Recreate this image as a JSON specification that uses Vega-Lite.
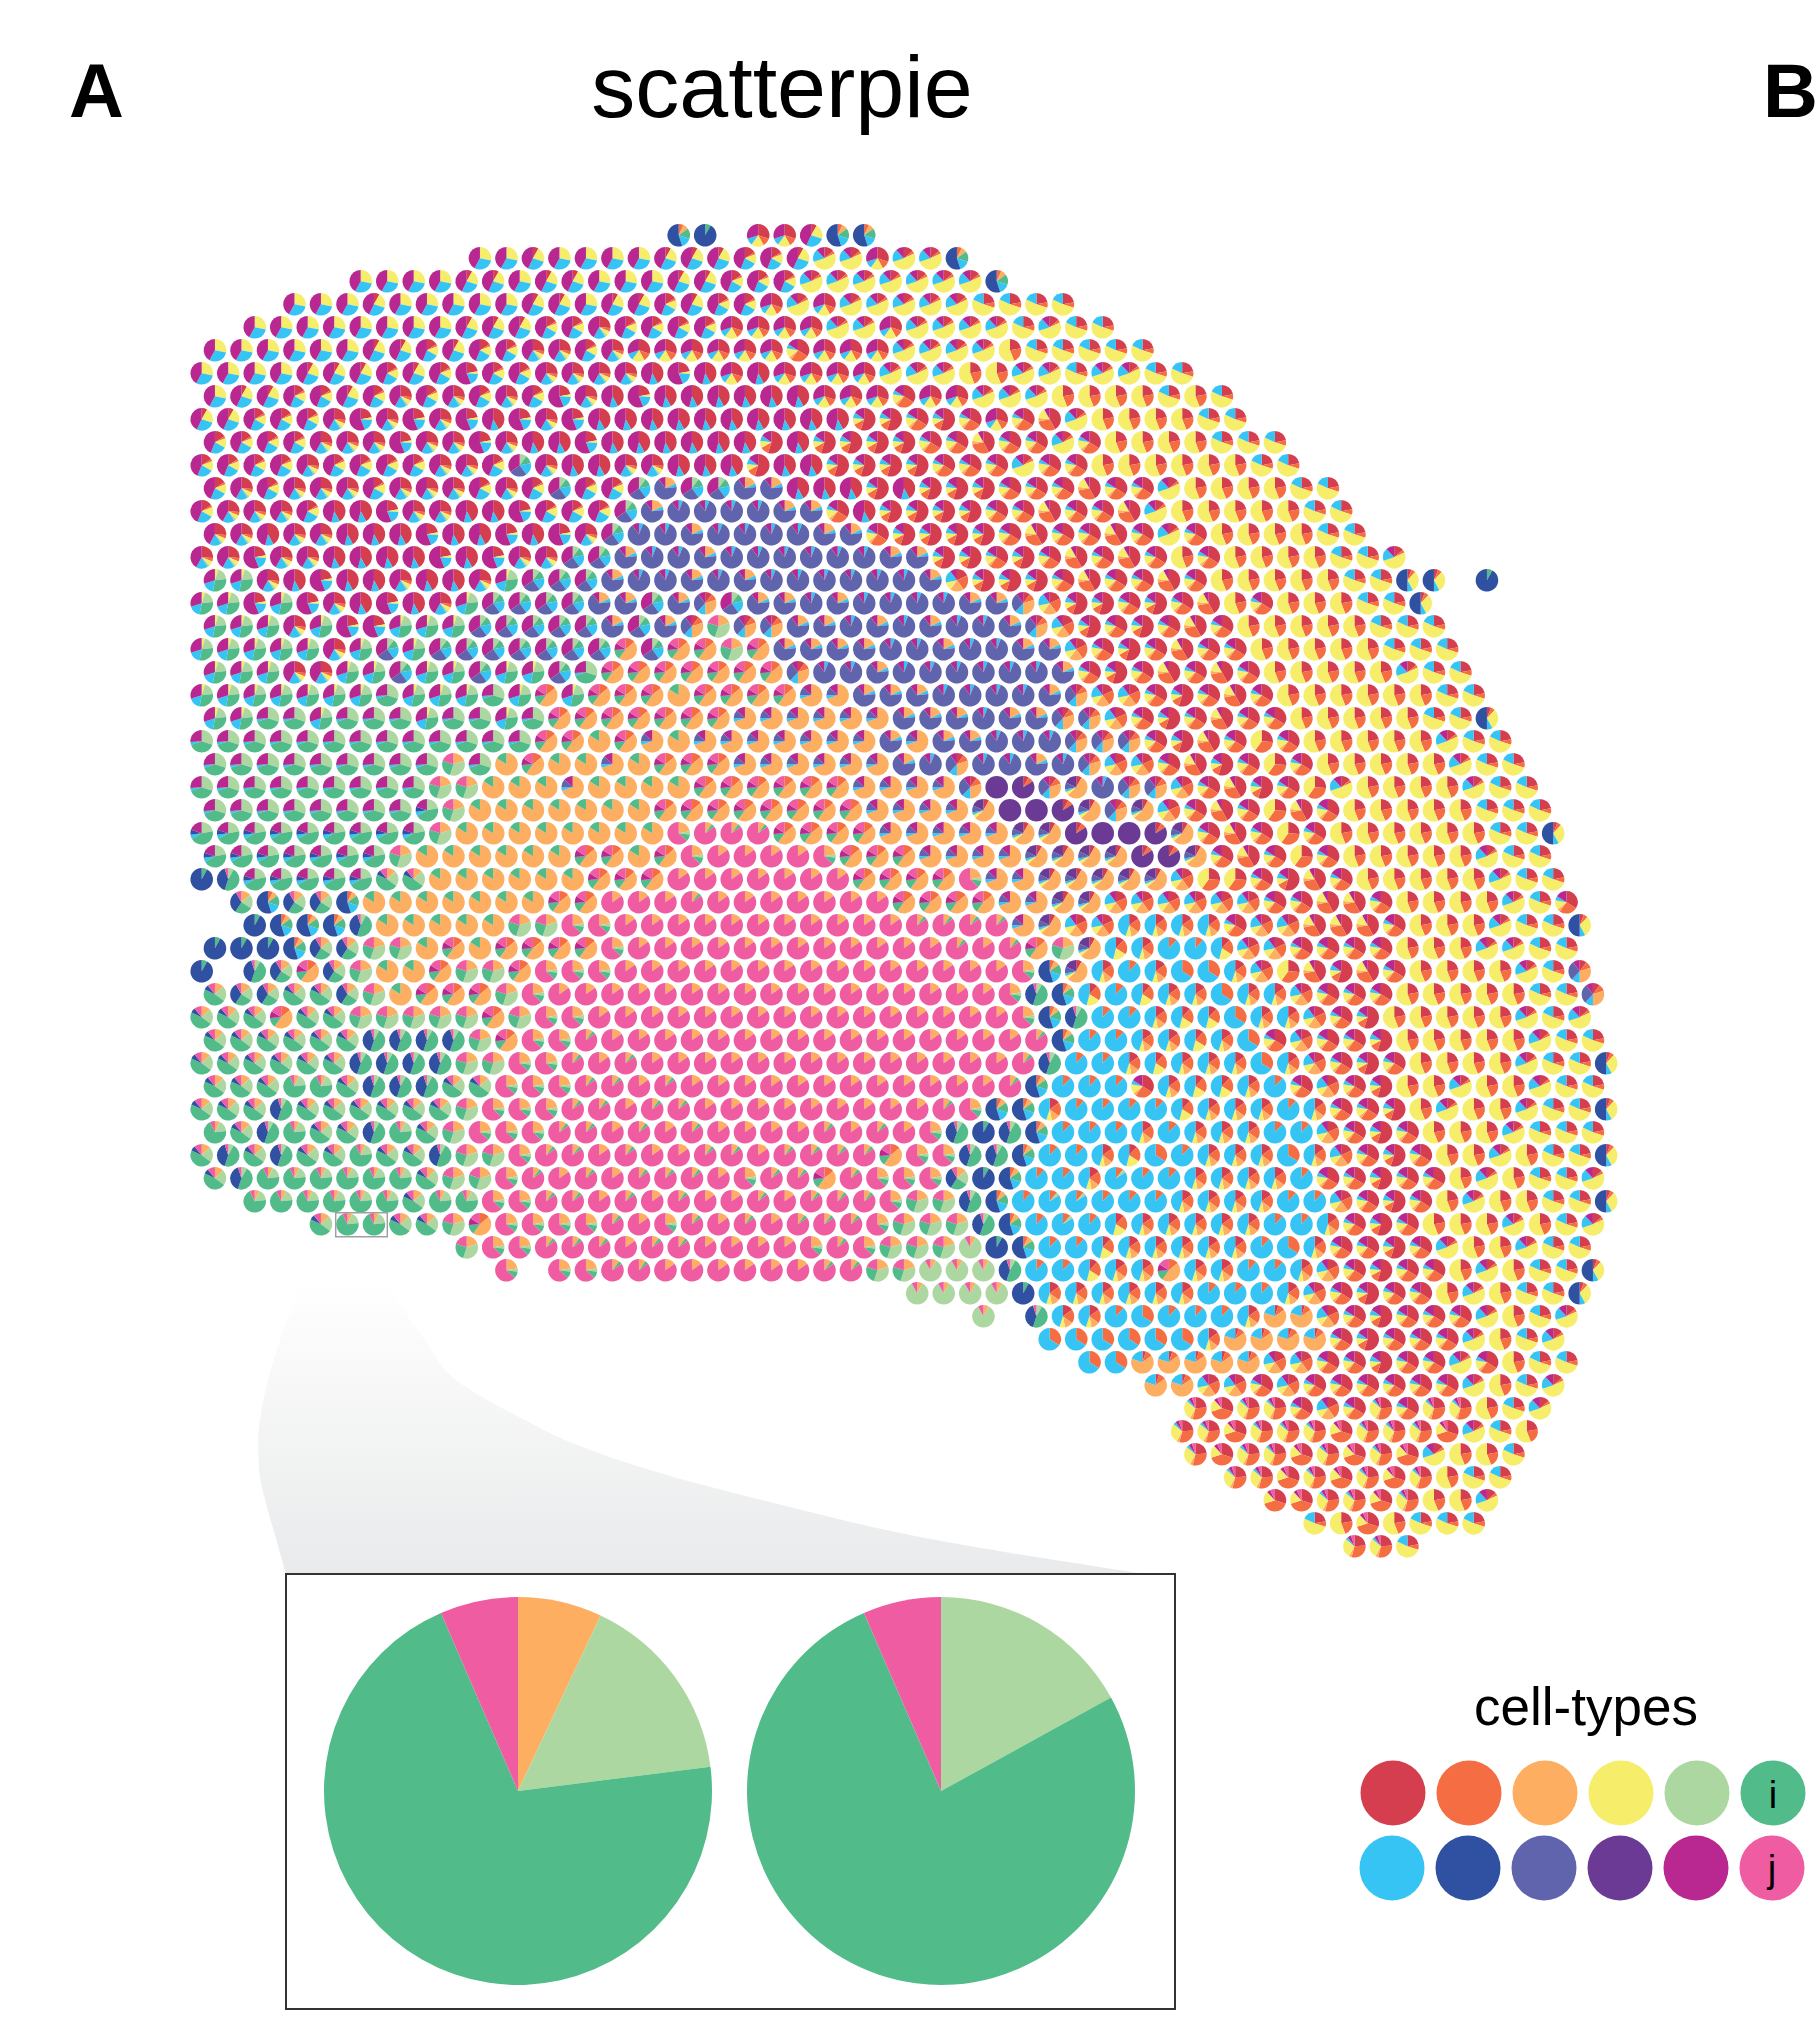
{"$schema":"https://vega.github.io/schema/vega-lite/v6.json","width":1816,"height":2040,"padding":0,"autosize":{"type":"fit","contains":"padding"},"background":"white","config":{"view":{"stroke":null}},
"datasets":{"mix":[
{"t":"a","k":["d","f","l"],"v0":[0,0.28,0.58],"v1":[0.28,0.58,1]},
{"t":"b","k":["r","d","f","l"],"v0":[0,0.08,0.3,0.57],"v1":[0.08,0.3,0.57,1]},
{"t":"c","k":["r","b","d","f","l"],"v0":[0,0.16,0.19,0.33,0.56],"v1":[0.16,0.19,0.33,0.56,1]},
{"t":"e","k":["r","d","f","l"],"v0":[0,0.22,0.26,0.44],"v1":[0.22,0.26,0.44,1]},
{"t":"g","k":["r","b","d","e","f","l"],"v0":[0,0.26,0.31,0.38,0.41,0.58],"v1":[0.26,0.31,0.38,0.41,0.58,1]},
{"t":"h","k":["r","f","l"],"v0":[0,0.42,0.54],"v1":[0.42,0.54,1]},
{"t":"i","k":["r","b","d","f","l"],"v0":[0,0.3,0.42,0.6,0.7],"v1":[0.3,0.42,0.6,0.7,1]},
{"t":"j","k":["r","b","d","f","l"],"v0":[0,0.14,0.18,0.7,0.88],"v1":[0.14,0.18,0.7,0.88,1]},
{"t":"k","k":["r","b","d"],"v0":[0,0.22,0.44],"v1":[0.22,0.44,1]},
{"t":"m","k":["r","b","d","f"],"v0":[0,0.22,0.3,0.82],"v1":[0.22,0.3,0.82,1]},
{"t":"n","k":["r","b","d","f","l"],"v0":[0,0.55,0.67,0.77,0.85],"v1":[0.55,0.67,0.77,0.85,1]},
{"t":"o","k":["r","b","c","d","l"],"v0":[0,0.42,0.72,0.77,0.92],"v1":[0.42,0.72,0.77,0.92,1]},
{"t":"p","k":["r","b","d"],"v0":[0,0.26,0.6],"v1":[0.26,0.6,1]},
{"t":"q","k":["r","b","c","d","f","l"],"v0":[0,0.34,0.6,0.64,0.78,0.84],"v1":[0.34,0.6,0.64,0.78,0.84,1]},
{"t":"s","k":["f","h","l"],"v0":[0,0.06,0.9],"v1":[0.06,0.9,1]},
{"t":"t","k":["c","f","h","l"],"v0":[0,0.18,0.23,0.9],"v1":[0.18,0.23,0.9,1]},
{"t":"u","k":["e","i","f","h","l"],"v0":[0,0.1,0.22,0.4,0.65],"v1":[0.1,0.22,0.4,0.65,1]},
{"t":"v","k":["c","f","h","l"],"v0":[0,0.7,0.75,0.87],"v1":[0.7,0.75,0.87,1]},
{"t":"w","k":["c","i"],"v0":[0,0.84],"v1":[0.84,1]},
{"t":"x","k":["b","c","i","l","j"],"v0":[0,0.14,0.6,0.74,0.84],"v1":[0.14,0.6,0.74,0.84,1]},
{"t":"y","k":["c","j"],"v0":[0,0.15],"v1":[0.15,1]},
{"t":"z","k":["c","i","j"],"v0":[0,0.1,0.15],"v1":[0.1,0.15,1]},
{"t":"A","k":["c","e","i","j"],"v0":[0,0.22,0.27,0.37],"v1":[0.22,0.27,0.37,1]},
{"t":"B","k":["e","i","f","l"],"v0":[0,0.3,0.7,0.74],"v1":[0.3,0.7,0.74,1]},
{"t":"C","k":["d","e","i","f","l"],"v0":[0,0.05,0.23,0.53,0.7],"v1":[0.05,0.23,0.53,0.7,1]},
{"t":"D","k":["e","i","f","g","l"],"v0":[0,0.22,0.67,0.73,0.8],"v1":[0.22,0.67,0.73,0.8,1]},
{"t":"E","k":["c","e","i","j"],"v0":[0,0.07,0.23,0.93],"v1":[0.07,0.23,0.93,1]},
{"t":"F","k":["c","e","i","g","j"],"v0":[0,0.13,0.35,0.82,0.89],"v1":[0.13,0.35,0.82,0.89,1]},
{"t":"G","k":["e","i","g","j"],"v0":[0,0.08,0.55,0.95],"v1":[0.08,0.55,0.95,1]},
{"t":"H","k":["i","g"],"v0":[0,0.08],"v1":[0.08,1]},
{"t":"I","k":["b","c","i","f","g"],"v0":[0,0.07,0.15,0.3,0.45],"v1":[0.07,0.15,0.3,0.45,1]},
{"t":"J","k":["c","e","i","g","j"],"v0":[0,0.14,0.34,0.59,0.92],"v1":[0.14,0.34,0.59,0.92,1]},
{"t":"K","k":["b","f"],"v0":[0,0.12],"v1":[0.12,1]},
{"t":"L","k":["b","e","f"],"v0":[0,0.11,0.16],"v1":[0.11,0.16,1]},
{"t":"M","k":["r","b","c","d","f"],"v0":[0,0.15,0.35,0.47,0.55],"v1":[0.15,0.35,0.47,0.55,1]},
{"t":"N","k":["r","b","d","f"],"v0":[0,0.12,0.34,0.54],"v1":[0.12,0.34,0.54,1]},
{"t":"O","k":["b","f"],"v0":[0,0.34],"v1":[0.34,1]},
{"t":"P","k":["r","b","c","f"],"v0":[0,0.05,0.15,0.8],"v1":[0.05,0.15,0.8,1]},
{"t":"Q","k":["k"],"v0":[0],"v1":[1]},
{"t":"R","k":["r","b","k"],"v0":[0,0.08,0.16],"v1":[0.08,0.16,1]},
{"t":"S","k":["r","c","d","f","h","k"],"v0":[0,0.08,0.63,0.68,0.72,0.82],"v1":[0.08,0.63,0.68,0.72,0.82,1]},
{"t":"T","k":["c","e","j"],"v0":[0,0.08,0.92],"v1":[0.08,0.92,1]},
{"t":"U","k":["c","e","i","j"],"v0":[0,0.2,0.55,0.8],"v1":[0.2,0.55,0.8,1]},
{"t":"V","k":["r","b","d","f","g"],"v0":[0,0.06,0.12,0.42,0.5],"v1":[0.06,0.12,0.42,0.5,1]},
{"t":"W","k":["r","b","d","l","j"],"v0":[0,0.3,0.7,0.88,0.93],"v1":[0.3,0.7,0.88,0.93,1]},
{"t":"X","k":["r","b","c","d","f","l","j"],"v0":[0,0.24,0.54,0.58,0.86,0.9,0.95],"v1":[0.24,0.54,0.58,0.86,0.9,0.95,1]},
{"t":"Y","k":["r","b","c","d","f","l"],"v0":[0,0.18,0.4,0.6,0.72,0.9],"v1":[0.18,0.4,0.6,0.72,0.9,1]},
{"t":"Z","k":["r","b","c","f","h","l"],"v0":[0,0.1,0.2,0.5,0.62,0.9],"v1":[0.1,0.2,0.5,0.62,0.9,1]}],
"spots":[
{"x":36,"y":0,"t":"I"},{"x":38,"y":0,"t":"H"},{"x":42,"y":0,"t":"i"},{"x":44,"y":0,"t":"i"},{"x":46,"y":0,"t":"b"},{"x":48,"y":0,"t":"I"},{"x":50,"y":0,"t":"I"},
{"x":21,"y":1,"t":"a"},{"x":23,"y":1,"t":"a"},{"x":25,"y":1,"t":"b"},{"x":27,"y":1,"t":"a"},{"x":29,"y":1,"t":"a"},{"x":31,"y":1,"t":"a"},{"x":33,"y":1,"t":"a"},{"x":35,"y":1,"t":"b"},{"x":37,"y":1,"t":"b"},{"x":39,"y":1,"t":"b"},{"x":41,"y":1,"t":"c"},{"x":43,"y":1,"t":"c"},{"x":45,"y":1,"t":"b"},{"x":47,"y":1,"t":"j"},{"x":49,"y":1,"t":"j"},{"x":51,"y":1,"t":"i"},{"x":53,"y":1,"t":"j"},{"x":55,"y":1,"t":"j"},{"x":57,"y":1,"t":"I"},
{"x":12,"y":2,"t":"a"},{"x":14,"y":2,"t":"a"},{"x":16,"y":2,"t":"a"},{"x":18,"y":2,"t":"a"},{"x":20,"y":2,"t":"b"},{"x":22,"y":2,"t":"b"},{"x":24,"y":2,"t":"a"},{"x":26,"y":2,"t":"b"},{"x":28,"y":2,"t":"b"},{"x":30,"y":2,"t":"a"},{"x":32,"y":2,"t":"a"},{"x":34,"y":2,"t":"a"},{"x":36,"y":2,"t":"b"},{"x":38,"y":2,"t":"b"},{"x":40,"y":2,"t":"c"},{"x":42,"y":2,"t":"c"},{"x":44,"y":2,"t":"c"},{"x":46,"y":2,"t":"j"},{"x":48,"y":2,"t":"j"},{"x":50,"y":2,"t":"j"},{"x":52,"y":2,"t":"j"},{"x":54,"y":2,"t":"j"},{"x":56,"y":2,"t":"j"},{"x":58,"y":2,"t":"j"},{"x":60,"y":2,"t":"I"},
{"x":7,"y":3,"t":"a"},{"x":9,"y":3,"t":"a"},{"x":11,"y":3,"t":"a"},{"x":13,"y":3,"t":"b"},{"x":15,"y":3,"t":"a"},{"x":17,"y":3,"t":"a"},{"x":19,"y":3,"t":"a"},{"x":21,"y":3,"t":"a"},{"x":23,"y":3,"t":"a"},{"x":25,"y":3,"t":"b"},{"x":27,"y":3,"t":"b"},{"x":29,"y":3,"t":"a"},{"x":31,"y":3,"t":"b"},{"x":33,"y":3,"t":"b"},{"x":35,"y":3,"t":"c"},{"x":37,"y":3,"t":"b"},{"x":39,"y":3,"t":"c"},{"x":41,"y":3,"t":"c"},{"x":43,"y":3,"t":"i"},{"x":45,"y":3,"t":"j"},{"x":47,"y":3,"t":"i"},{"x":49,"y":3,"t":"j"},{"x":51,"y":3,"t":"j"},{"x":53,"y":3,"t":"j"},{"x":55,"y":3,"t":"j"},{"x":57,"y":3,"t":"j"},{"x":59,"y":3,"t":"m"},{"x":61,"y":3,"t":"m"},{"x":63,"y":3,"t":"m"},{"x":65,"y":3,"t":"m"},
{"x":4,"y":4,"t":"a"},{"x":6,"y":4,"t":"a"},{"x":8,"y":4,"t":"a"},{"x":10,"y":4,"t":"a"},{"x":12,"y":4,"t":"a"},{"x":14,"y":4,"t":"a"},{"x":16,"y":4,"t":"a"},{"x":18,"y":4,"t":"a"},{"x":20,"y":4,"t":"b"},{"x":22,"y":4,"t":"b"},{"x":24,"y":4,"t":"b"},{"x":26,"y":4,"t":"c"},{"x":28,"y":4,"t":"c"},{"x":30,"y":4,"t":"g"},{"x":32,"y":4,"t":"c"},{"x":34,"y":4,"t":"c"},{"x":36,"y":4,"t":"c"},{"x":38,"y":4,"t":"c"},{"x":40,"y":4,"t":"i"},{"x":42,"y":4,"t":"i"},{"x":44,"y":4,"t":"i"},{"x":46,"y":4,"t":"i"},{"x":48,"y":4,"t":"j"},{"x":50,"y":4,"t":"j"},{"x":52,"y":4,"t":"i"},{"x":54,"y":4,"t":"j"},{"x":56,"y":4,"t":"j"},{"x":58,"y":4,"t":"j"},{"x":60,"y":4,"t":"j"},{"x":62,"y":4,"t":"m"},{"x":64,"y":4,"t":"j"},{"x":66,"y":4,"t":"m"},{"x":68,"y":4,"t":"m"},
{"x":1,"y":5,"t":"a"},{"x":3,"y":5,"t":"a"},{"x":5,"y":5,"t":"a"},{"x":7,"y":5,"t":"a"},{"x":9,"y":5,"t":"a"},{"x":11,"y":5,"t":"a"},{"x":13,"y":5,"t":"b"},{"x":15,"y":5,"t":"b"},{"x":17,"y":5,"t":"c"},{"x":19,"y":5,"t":"b"},{"x":21,"y":5,"t":"c"},{"x":23,"y":5,"t":"c"},{"x":25,"y":5,"t":"g"},{"x":27,"y":5,"t":"g"},{"x":29,"y":5,"t":"c"},{"x":31,"y":5,"t":"g"},{"x":33,"y":5,"t":"i"},{"x":35,"y":5,"t":"i"},{"x":37,"y":5,"t":"i"},{"x":39,"y":5,"t":"i"},{"x":41,"y":5,"t":"i"},{"x":43,"y":5,"t":"i"},{"x":45,"y":5,"t":"q"},{"x":47,"y":5,"t":"i"},{"x":49,"y":5,"t":"i"},{"x":51,"y":5,"t":"i"},{"x":53,"y":5,"t":"j"},{"x":55,"y":5,"t":"j"},{"x":57,"y":5,"t":"j"},{"x":59,"y":5,"t":"j"},{"x":61,"y":5,"t":"k"},{"x":63,"y":5,"t":"m"},{"x":65,"y":5,"t":"m"},{"x":67,"y":5,"t":"m"},{"x":69,"y":5,"t":"m"},{"x":71,"y":5,"t":"m"},
{"x":0,"y":6,"t":"a"},{"x":2,"y":6,"t":"a"},{"x":4,"y":6,"t":"a"},{"x":6,"y":6,"t":"a"},{"x":8,"y":6,"t":"b"},{"x":10,"y":6,"t":"b"},{"x":12,"y":6,"t":"b"},{"x":14,"y":6,"t":"c"},{"x":16,"y":6,"t":"b"},{"x":18,"y":6,"t":"c"},{"x":20,"y":6,"t":"e"},{"x":22,"y":6,"t":"c"},{"x":24,"y":6,"t":"c"},{"x":26,"y":6,"t":"g"},{"x":28,"y":6,"t":"g"},{"x":30,"y":6,"t":"g"},{"x":32,"y":6,"t":"g"},{"x":34,"y":6,"t":"h"},{"x":36,"y":6,"t":"e"},{"x":38,"y":6,"t":"h"},{"x":40,"y":6,"t":"i"},{"x":42,"y":6,"t":"h"},{"x":44,"y":6,"t":"i"},{"x":46,"y":6,"t":"i"},{"x":48,"y":6,"t":"i"},{"x":50,"y":6,"t":"i"},{"x":52,"y":6,"t":"j"},{"x":54,"y":6,"t":"j"},{"x":56,"y":6,"t":"j"},{"x":58,"y":6,"t":"k"},{"x":60,"y":6,"t":"k"},{"x":62,"y":6,"t":"j"},{"x":64,"y":6,"t":"j"},{"x":66,"y":6,"t":"m"},{"x":68,"y":6,"t":"j"},{"x":70,"y":6,"t":"j"},{"x":72,"y":6,"t":"m"},{"x":74,"y":6,"t":"m"},
{"x":1,"y":7,"t":"a"},{"x":3,"y":7,"t":"b"},{"x":5,"y":7,"t":"b"},{"x":7,"y":7,"t":"c"},{"x":9,"y":7,"t":"c"},{"x":11,"y":7,"t":"b"},{"x":13,"y":7,"t":"c"},{"x":15,"y":7,"t":"g"},{"x":17,"y":7,"t":"c"},{"x":19,"y":7,"t":"g"},{"x":21,"y":7,"t":"c"},{"x":23,"y":7,"t":"g"},{"x":25,"y":7,"t":"c"},{"x":27,"y":7,"t":"e"},{"x":29,"y":7,"t":"g"},{"x":31,"y":7,"t":"h"},{"x":33,"y":7,"t":"e"},{"x":35,"y":7,"t":"h"},{"x":37,"y":7,"t":"h"},{"x":39,"y":7,"t":"h"},{"x":41,"y":7,"t":"h"},{"x":43,"y":7,"t":"h"},{"x":45,"y":7,"t":"h"},{"x":47,"y":7,"t":"i"},{"x":49,"y":7,"t":"i"},{"x":51,"y":7,"t":"i"},{"x":53,"y":7,"t":"q"},{"x":55,"y":7,"t":"i"},{"x":57,"y":7,"t":"i"},{"x":59,"y":7,"t":"j"},{"x":61,"y":7,"t":"j"},{"x":63,"y":7,"t":"j"},{"x":65,"y":7,"t":"k"},{"x":67,"y":7,"t":"k"},{"x":69,"y":7,"t":"k"},{"x":71,"y":7,"t":"k"},{"x":73,"y":7,"t":"m"},{"x":75,"y":7,"t":"k"},{"x":77,"y":7,"t":"m"},
{"x":0,"y":8,"t":"b"},{"x":2,"y":8,"t":"b"},{"x":4,"y":8,"t":"c"},{"x":6,"y":8,"t":"c"},{"x":8,"y":8,"t":"c"},{"x":10,"y":8,"t":"g"},{"x":12,"y":8,"t":"e"},{"x":14,"y":8,"t":"g"},{"x":16,"y":8,"t":"e"},{"x":18,"y":8,"t":"g"},{"x":20,"y":8,"t":"e"},{"x":22,"y":8,"t":"h"},{"x":24,"y":8,"t":"e"},{"x":26,"y":8,"t":"g"},{"x":28,"y":8,"t":"e"},{"x":30,"y":8,"t":"h"},{"x":32,"y":8,"t":"h"},{"x":34,"y":8,"t":"h"},{"x":36,"y":8,"t":"h"},{"x":38,"y":8,"t":"h"},{"x":40,"y":8,"t":"h"},{"x":42,"y":8,"t":"h"},{"x":44,"y":8,"t":"h"},{"x":46,"y":8,"t":"h"},{"x":48,"y":8,"t":"h"},{"x":50,"y":8,"t":"n"},{"x":52,"y":8,"t":"n"},{"x":54,"y":8,"t":"q"},{"x":56,"y":8,"t":"n"},{"x":58,"y":8,"t":"q"},{"x":60,"y":8,"t":"i"},{"x":62,"y":8,"t":"q"},{"x":64,"y":8,"t":"o"},{"x":66,"y":8,"t":"j"},{"x":68,"y":8,"t":"k"},{"x":70,"y":8,"t":"k"},{"x":72,"y":8,"t":"k"},{"x":74,"y":8,"t":"k"},{"x":76,"y":8,"t":"m"},{"x":78,"y":8,"t":"m"},
{"x":1,"y":9,"t":"c"},{"x":3,"y":9,"t":"c"},{"x":5,"y":9,"t":"c"},{"x":7,"y":9,"t":"c"},{"x":9,"y":9,"t":"g"},{"x":11,"y":9,"t":"g"},{"x":13,"y":9,"t":"g"},{"x":15,"y":9,"t":"e"},{"x":17,"y":9,"t":"g"},{"x":19,"y":9,"t":"g"},{"x":21,"y":9,"t":"e"},{"x":23,"y":9,"t":"g"},{"x":25,"y":9,"t":"h"},{"x":27,"y":9,"t":"h"},{"x":29,"y":9,"t":"e"},{"x":31,"y":9,"t":"h"},{"x":33,"y":9,"t":"h"},{"x":35,"y":9,"t":"h"},{"x":37,"y":9,"t":"h"},{"x":39,"y":9,"t":"h"},{"x":41,"y":9,"t":"h"},{"x":43,"y":9,"t":"n"},{"x":45,"y":9,"t":"h"},{"x":47,"y":9,"t":"n"},{"x":49,"y":9,"t":"n"},{"x":51,"y":9,"t":"n"},{"x":53,"y":9,"t":"n"},{"x":55,"y":9,"t":"q"},{"x":57,"y":9,"t":"q"},{"x":59,"y":9,"t":"o"},{"x":61,"y":9,"t":"q"},{"x":63,"y":9,"t":"q"},{"x":65,"y":9,"t":"j"},{"x":67,"y":9,"t":"q"},{"x":69,"y":9,"t":"k"},{"x":71,"y":9,"t":"k"},{"x":73,"y":9,"t":"k"},{"x":75,"y":9,"t":"k"},{"x":77,"y":9,"t":"m"},{"x":79,"y":9,"t":"m"},{"x":81,"y":9,"t":"m"},
{"x":0,"y":10,"t":"c"},{"x":2,"y":10,"t":"c"},{"x":4,"y":10,"t":"c"},{"x":6,"y":10,"t":"c"},{"x":8,"y":10,"t":"g"},{"x":10,"y":10,"t":"c"},{"x":12,"y":10,"t":"c"},{"x":14,"y":10,"t":"c"},{"x":16,"y":10,"t":"c"},{"x":18,"y":10,"t":"g"},{"x":20,"y":10,"t":"g"},{"x":22,"y":10,"t":"c"},{"x":24,"y":10,"t":"u"},{"x":26,"y":10,"t":"g"},{"x":28,"y":10,"t":"h"},{"x":30,"y":10,"t":"h"},{"x":32,"y":10,"t":"g"},{"x":34,"y":10,"t":"g"},{"x":36,"y":10,"t":"h"},{"x":38,"y":10,"t":"h"},{"x":40,"y":10,"t":"h"},{"x":42,"y":10,"t":"n"},{"x":44,"y":10,"t":"h"},{"x":46,"y":10,"t":"h"},{"x":48,"y":10,"t":"n"},{"x":50,"y":10,"t":"n"},{"x":52,"y":10,"t":"n"},{"x":54,"y":10,"t":"n"},{"x":56,"y":10,"t":"q"},{"x":58,"y":10,"t":"q"},{"x":60,"y":10,"t":"q"},{"x":62,"y":10,"t":"j"},{"x":64,"y":10,"t":"q"},{"x":66,"y":10,"t":"q"},{"x":68,"y":10,"t":"k"},{"x":70,"y":10,"t":"k"},{"x":72,"y":10,"t":"k"},{"x":74,"y":10,"t":"k"},{"x":76,"y":10,"t":"k"},{"x":78,"y":10,"t":"k"},{"x":80,"y":10,"t":"m"},{"x":82,"y":10,"t":"m"},
{"x":1,"y":11,"t":"c"},{"x":3,"y":11,"t":"g"},{"x":5,"y":11,"t":"c"},{"x":7,"y":11,"t":"g"},{"x":9,"y":11,"t":"g"},{"x":11,"y":11,"t":"g"},{"x":13,"y":11,"t":"c"},{"x":15,"y":11,"t":"g"},{"x":17,"y":11,"t":"g"},{"x":19,"y":11,"t":"g"},{"x":21,"y":11,"t":"c"},{"x":23,"y":11,"t":"g"},{"x":25,"y":11,"t":"c"},{"x":27,"y":11,"t":"u"},{"x":29,"y":11,"t":"c"},{"x":31,"y":11,"t":"c"},{"x":33,"y":11,"t":"u"},{"x":35,"y":11,"t":"t"},{"x":37,"y":11,"t":"u"},{"x":39,"y":11,"t":"u"},{"x":41,"y":11,"t":"t"},{"x":43,"y":11,"t":"t"},{"x":45,"y":11,"t":"h"},{"x":47,"y":11,"t":"h"},{"x":49,"y":11,"t":"h"},{"x":51,"y":11,"t":"n"},{"x":53,"y":11,"t":"h"},{"x":55,"y":11,"t":"n"},{"x":57,"y":11,"t":"n"},{"x":59,"y":11,"t":"n"},{"x":61,"y":11,"t":"q"},{"x":63,"y":11,"t":"q"},{"x":65,"y":11,"t":"q"},{"x":67,"y":11,"t":"o"},{"x":69,"y":11,"t":"q"},{"x":71,"y":11,"t":"q"},{"x":73,"y":11,"t":"j"},{"x":75,"y":11,"t":"k"},{"x":77,"y":11,"t":"k"},{"x":79,"y":11,"t":"k"},{"x":81,"y":11,"t":"k"},{"x":83,"y":11,"t":"m"},{"x":85,"y":11,"t":"m"},
{"x":0,"y":12,"t":"c"},{"x":2,"y":12,"t":"g"},{"x":4,"y":12,"t":"g"},{"x":6,"y":12,"t":"g"},{"x":8,"y":12,"t":"c"},{"x":10,"y":12,"t":"h"},{"x":12,"y":12,"t":"h"},{"x":14,"y":12,"t":"e"},{"x":16,"y":12,"t":"g"},{"x":18,"y":12,"t":"g"},{"x":20,"y":12,"t":"h"},{"x":22,"y":12,"t":"h"},{"x":24,"y":12,"t":"e"},{"x":26,"y":12,"t":"c"},{"x":28,"y":12,"t":"c"},{"x":30,"y":12,"t":"c"},{"x":32,"y":12,"t":"u"},{"x":34,"y":12,"t":"t"},{"x":36,"y":12,"t":"s"},{"x":38,"y":12,"t":"s"},{"x":40,"y":12,"t":"s"},{"x":42,"y":12,"t":"s"},{"x":44,"y":12,"t":"t"},{"x":46,"y":12,"t":"t"},{"x":48,"y":12,"t":"q"},{"x":50,"y":12,"t":"h"},{"x":52,"y":12,"t":"n"},{"x":54,"y":12,"t":"n"},{"x":56,"y":12,"t":"n"},{"x":58,"y":12,"t":"n"},{"x":60,"y":12,"t":"q"},{"x":62,"y":12,"t":"q"},{"x":64,"y":12,"t":"o"},{"x":66,"y":12,"t":"q"},{"x":68,"y":12,"t":"q"},{"x":70,"y":12,"t":"o"},{"x":72,"y":12,"t":"j"},{"x":74,"y":12,"t":"k"},{"x":76,"y":12,"t":"k"},{"x":78,"y":12,"t":"k"},{"x":80,"y":12,"t":"k"},{"x":82,"y":12,"t":"k"},{"x":84,"y":12,"t":"m"},{"x":86,"y":12,"t":"m"},
{"x":1,"y":13,"t":"g"},{"x":3,"y":13,"t":"g"},{"x":5,"y":13,"t":"h"},{"x":7,"y":13,"t":"g"},{"x":9,"y":13,"t":"g"},{"x":11,"y":13,"t":"h"},{"x":13,"y":13,"t":"h"},{"x":15,"y":13,"t":"h"},{"x":17,"y":13,"t":"e"},{"x":19,"y":13,"t":"h"},{"x":21,"y":13,"t":"h"},{"x":23,"y":13,"t":"e"},{"x":25,"y":13,"t":"h"},{"x":27,"y":13,"t":"e"},{"x":29,"y":13,"t":"g"},{"x":31,"y":13,"t":"u"},{"x":33,"y":13,"t":"s"},{"x":35,"y":13,"t":"s"},{"x":37,"y":13,"t":"t"},{"x":39,"y":13,"t":"s"},{"x":41,"y":13,"t":"s"},{"x":43,"y":13,"t":"s"},{"x":45,"y":13,"t":"s"},{"x":47,"y":13,"t":"t"},{"x":49,"y":13,"t":"t"},{"x":51,"y":13,"t":"q"},{"x":53,"y":13,"t":"n"},{"x":55,"y":13,"t":"n"},{"x":57,"y":13,"t":"n"},{"x":59,"y":13,"t":"n"},{"x":61,"y":13,"t":"q"},{"x":63,"y":13,"t":"o"},{"x":65,"y":13,"t":"q"},{"x":67,"y":13,"t":"q"},{"x":69,"y":13,"t":"o"},{"x":71,"y":13,"t":"q"},{"x":73,"y":13,"t":"j"},{"x":75,"y":13,"t":"q"},{"x":77,"y":13,"t":"k"},{"x":79,"y":13,"t":"k"},{"x":81,"y":13,"t":"k"},{"x":83,"y":13,"t":"k"},{"x":85,"y":13,"t":"m"},{"x":87,"y":13,"t":"m"},
{"x":0,"y":14,"t":"g"},{"x":2,"y":14,"t":"g"},{"x":4,"y":14,"t":"e"},{"x":6,"y":14,"t":"g"},{"x":8,"y":14,"t":"g"},{"x":10,"y":14,"t":"h"},{"x":12,"y":14,"t":"h"},{"x":14,"y":14,"t":"h"},{"x":16,"y":14,"t":"h"},{"x":18,"y":14,"t":"e"},{"x":20,"y":14,"t":"h"},{"x":22,"y":14,"t":"e"},{"x":24,"y":14,"t":"g"},{"x":26,"y":14,"t":"g"},{"x":28,"y":14,"t":"u"},{"x":30,"y":14,"t":"u"},{"x":32,"y":14,"t":"t"},{"x":34,"y":14,"t":"s"},{"x":36,"y":14,"t":"s"},{"x":38,"y":14,"t":"t"},{"x":40,"y":14,"t":"s"},{"x":42,"y":14,"t":"s"},{"x":44,"y":14,"t":"s"},{"x":46,"y":14,"t":"s"},{"x":48,"y":14,"t":"s"},{"x":50,"y":14,"t":"s"},{"x":52,"y":14,"t":"t"},{"x":54,"y":14,"t":"t"},{"x":56,"y":14,"t":"n"},{"x":58,"y":14,"t":"n"},{"x":60,"y":14,"t":"q"},{"x":62,"y":14,"t":"n"},{"x":64,"y":14,"t":"q"},{"x":66,"y":14,"t":"o"},{"x":68,"y":14,"t":"q"},{"x":70,"y":14,"t":"o"},{"x":72,"y":14,"t":"q"},{"x":74,"y":14,"t":"k"},{"x":76,"y":14,"t":"q"},{"x":78,"y":14,"t":"k"},{"x":80,"y":14,"t":"k"},{"x":82,"y":14,"t":"k"},{"x":84,"y":14,"t":"k"},{"x":86,"y":14,"t":"m"},{"x":88,"y":14,"t":"m"},{"x":90,"y":14,"t":"j"},
{"x":1,"y":15,"t":"C"},{"x":3,"y":15,"t":"C"},{"x":5,"y":15,"t":"g"},{"x":7,"y":15,"t":"h"},{"x":9,"y":15,"t":"e"},{"x":11,"y":15,"t":"h"},{"x":13,"y":15,"t":"h"},{"x":15,"y":15,"t":"g"},{"x":17,"y":15,"t":"h"},{"x":19,"y":15,"t":"h"},{"x":21,"y":15,"t":"g"},{"x":23,"y":15,"t":"C"},{"x":25,"y":15,"t":"u"},{"x":27,"y":15,"t":"u"},{"x":29,"y":15,"t":"u"},{"x":31,"y":15,"t":"t"},{"x":33,"y":15,"t":"s"},{"x":35,"y":15,"t":"s"},{"x":37,"y":15,"t":"t"},{"x":39,"y":15,"t":"s"},{"x":41,"y":15,"t":"t"},{"x":43,"y":15,"t":"s"},{"x":45,"y":15,"t":"s"},{"x":47,"y":15,"t":"s"},{"x":49,"y":15,"t":"s"},{"x":51,"y":15,"t":"s"},{"x":53,"y":15,"t":"s"},{"x":55,"y":15,"t":"t"},{"x":57,"y":15,"t":"Y"},{"x":59,"y":15,"t":"n"},{"x":61,"y":15,"t":"n"},{"x":63,"y":15,"t":"n"},{"x":65,"y":15,"t":"q"},{"x":67,"y":15,"t":"o"},{"x":69,"y":15,"t":"q"},{"x":71,"y":15,"t":"q"},{"x":73,"y":15,"t":"o"},{"x":75,"y":15,"t":"q"},{"x":77,"y":15,"t":"k"},{"x":79,"y":15,"t":"k"},{"x":81,"y":15,"t":"k"},{"x":83,"y":15,"t":"k"},{"x":85,"y":15,"t":"k"},{"x":87,"y":15,"t":"m"},{"x":89,"y":15,"t":"m"},{"x":91,"y":15,"t":"V"},{"x":93,"y":15,"t":"V"},{"x":97,"y":15,"t":"H"},
{"x":0,"y":16,"t":"C"},{"x":2,"y":16,"t":"C"},{"x":4,"y":16,"t":"e"},{"x":6,"y":16,"t":"C"},{"x":8,"y":16,"t":"e"},{"x":10,"y":16,"t":"g"},{"x":12,"y":16,"t":"h"},{"x":14,"y":16,"t":"e"},{"x":16,"y":16,"t":"h"},{"x":18,"y":16,"t":"g"},{"x":20,"y":16,"t":"C"},{"x":22,"y":16,"t":"u"},{"x":24,"y":16,"t":"u"},{"x":26,"y":16,"t":"u"},{"x":28,"y":16,"t":"u"},{"x":30,"y":16,"t":"t"},{"x":32,"y":16,"t":"t"},{"x":34,"y":16,"t":"u"},{"x":36,"y":16,"t":"t"},{"x":38,"y":16,"t":"Z"},{"x":40,"y":16,"t":"u"},{"x":42,"y":16,"t":"t"},{"x":44,"y":16,"t":"t"},{"x":46,"y":16,"t":"s"},{"x":48,"y":16,"t":"t"},{"x":50,"y":16,"t":"s"},{"x":52,"y":16,"t":"s"},{"x":54,"y":16,"t":"s"},{"x":56,"y":16,"t":"s"},{"x":58,"y":16,"t":"t"},{"x":60,"y":16,"t":"t"},{"x":62,"y":16,"t":"Z"},{"x":64,"y":16,"t":"Y"},{"x":66,"y":16,"t":"n"},{"x":68,"y":16,"t":"n"},{"x":70,"y":16,"t":"q"},{"x":72,"y":16,"t":"n"},{"x":74,"y":16,"t":"q"},{"x":76,"y":16,"t":"o"},{"x":78,"y":16,"t":"k"},{"x":80,"y":16,"t":"q"},{"x":82,"y":16,"t":"k"},{"x":84,"y":16,"t":"k"},{"x":86,"y":16,"t":"k"},{"x":88,"y":16,"t":"m"},{"x":90,"y":16,"t":"m"},{"x":92,"y":16,"t":"V"},
{"x":1,"y":17,"t":"C"},{"x":3,"y":17,"t":"C"},{"x":5,"y":17,"t":"C"},{"x":7,"y":17,"t":"g"},{"x":9,"y":17,"t":"C"},{"x":11,"y":17,"t":"e"},{"x":13,"y":17,"t":"e"},{"x":15,"y":17,"t":"C"},{"x":17,"y":17,"t":"C"},{"x":19,"y":17,"t":"C"},{"x":21,"y":17,"t":"u"},{"x":23,"y":17,"t":"u"},{"x":25,"y":17,"t":"u"},{"x":27,"y":17,"t":"u"},{"x":29,"y":17,"t":"u"},{"x":31,"y":17,"t":"t"},{"x":33,"y":17,"t":"u"},{"x":35,"y":17,"t":"t"},{"x":37,"y":17,"t":"Z"},{"x":39,"y":17,"t":"U"},{"x":41,"y":17,"t":"Z"},{"x":43,"y":17,"t":"Z"},{"x":45,"y":17,"t":"t"},{"x":47,"y":17,"t":"t"},{"x":49,"y":17,"t":"s"},{"x":51,"y":17,"t":"t"},{"x":53,"y":17,"t":"s"},{"x":55,"y":17,"t":"t"},{"x":57,"y":17,"t":"s"},{"x":59,"y":17,"t":"s"},{"x":61,"y":17,"t":"t"},{"x":63,"y":17,"t":"Z"},{"x":65,"y":17,"t":"Y"},{"x":67,"y":17,"t":"n"},{"x":69,"y":17,"t":"q"},{"x":71,"y":17,"t":"n"},{"x":73,"y":17,"t":"q"},{"x":75,"y":17,"t":"o"},{"x":77,"y":17,"t":"q"},{"x":79,"y":17,"t":"k"},{"x":81,"y":17,"t":"k"},{"x":83,"y":17,"t":"k"},{"x":85,"y":17,"t":"k"},{"x":87,"y":17,"t":"k"},{"x":89,"y":17,"t":"m"},{"x":91,"y":17,"t":"m"},{"x":93,"y":17,"t":"m"},
{"x":0,"y":18,"t":"C"},{"x":2,"y":18,"t":"C"},{"x":4,"y":18,"t":"C"},{"x":6,"y":18,"t":"C"},{"x":8,"y":18,"t":"C"},{"x":10,"y":18,"t":"g"},{"x":12,"y":18,"t":"C"},{"x":14,"y":18,"t":"u"},{"x":16,"y":18,"t":"C"},{"x":18,"y":18,"t":"u"},{"x":20,"y":18,"t":"u"},{"x":22,"y":18,"t":"u"},{"x":24,"y":18,"t":"u"},{"x":26,"y":18,"t":"u"},{"x":28,"y":18,"t":"u"},{"x":30,"y":18,"t":"u"},{"x":32,"y":18,"t":"x"},{"x":34,"y":18,"t":"u"},{"x":36,"y":18,"t":"x"},{"x":38,"y":18,"t":"x"},{"x":40,"y":18,"t":"U"},{"x":42,"y":18,"t":"x"},{"x":44,"y":18,"t":"t"},{"x":46,"y":18,"t":"t"},{"x":48,"y":18,"t":"t"},{"x":50,"y":18,"t":"t"},{"x":52,"y":18,"t":"s"},{"x":54,"y":18,"t":"s"},{"x":56,"y":18,"t":"t"},{"x":58,"y":18,"t":"s"},{"x":60,"y":18,"t":"s"},{"x":62,"y":18,"t":"t"},{"x":64,"y":18,"t":"t"},{"x":66,"y":18,"t":"Y"},{"x":68,"y":18,"t":"q"},{"x":70,"y":18,"t":"n"},{"x":72,"y":18,"t":"q"},{"x":74,"y":18,"t":"o"},{"x":76,"y":18,"t":"q"},{"x":78,"y":18,"t":"q"},{"x":80,"y":18,"t":"k"},{"x":82,"y":18,"t":"k"},{"x":84,"y":18,"t":"k"},{"x":86,"y":18,"t":"k"},{"x":88,"y":18,"t":"k"},{"x":90,"y":18,"t":"m"},{"x":92,"y":18,"t":"m"},{"x":94,"y":18,"t":"m"},
{"x":1,"y":19,"t":"C"},{"x":3,"y":19,"t":"C"},{"x":5,"y":19,"t":"C"},{"x":7,"y":19,"t":"g"},{"x":9,"y":19,"t":"g"},{"x":11,"y":19,"t":"C"},{"x":13,"y":19,"t":"C"},{"x":15,"y":19,"t":"u"},{"x":17,"y":19,"t":"C"},{"x":19,"y":19,"t":"C"},{"x":21,"y":19,"t":"u"},{"x":23,"y":19,"t":"C"},{"x":25,"y":19,"t":"C"},{"x":27,"y":19,"t":"u"},{"x":29,"y":19,"t":"B"},{"x":31,"y":19,"t":"x"},{"x":33,"y":19,"t":"x"},{"x":35,"y":19,"t":"x"},{"x":37,"y":19,"t":"x"},{"x":39,"y":19,"t":"x"},{"x":41,"y":19,"t":"x"},{"x":43,"y":19,"t":"x"},{"x":45,"y":19,"t":"Z"},{"x":47,"y":19,"t":"s"},{"x":49,"y":19,"t":"s"},{"x":51,"y":19,"t":"t"},{"x":53,"y":19,"t":"s"},{"x":55,"y":19,"t":"s"},{"x":57,"y":19,"t":"s"},{"x":59,"y":19,"t":"s"},{"x":61,"y":19,"t":"s"},{"x":63,"y":19,"t":"s"},{"x":65,"y":19,"t":"t"},{"x":67,"y":19,"t":"q"},{"x":69,"y":19,"t":"n"},{"x":71,"y":19,"t":"q"},{"x":73,"y":19,"t":"o"},{"x":75,"y":19,"t":"q"},{"x":77,"y":19,"t":"o"},{"x":79,"y":19,"t":"q"},{"x":81,"y":19,"t":"k"},{"x":83,"y":19,"t":"k"},{"x":85,"y":19,"t":"k"},{"x":87,"y":19,"t":"k"},{"x":89,"y":19,"t":"k"},{"x":91,"y":19,"t":"j"},{"x":93,"y":19,"t":"m"},{"x":95,"y":19,"t":"m"},
{"x":0,"y":20,"t":"C"},{"x":2,"y":20,"t":"C"},{"x":4,"y":20,"t":"C"},{"x":6,"y":20,"t":"C"},{"x":8,"y":20,"t":"C"},{"x":10,"y":20,"t":"C"},{"x":12,"y":20,"t":"C"},{"x":14,"y":20,"t":"B"},{"x":16,"y":20,"t":"C"},{"x":18,"y":20,"t":"C"},{"x":20,"y":20,"t":"C"},{"x":22,"y":20,"t":"B"},{"x":24,"y":20,"t":"C"},{"x":26,"y":20,"t":"x"},{"x":28,"y":20,"t":"C"},{"x":30,"y":20,"t":"x"},{"x":32,"y":20,"t":"x"},{"x":34,"y":20,"t":"x"},{"x":36,"y":20,"t":"w"},{"x":38,"y":20,"t":"x"},{"x":40,"y":20,"t":"x"},{"x":42,"y":20,"t":"x"},{"x":44,"y":20,"t":"x"},{"x":46,"y":20,"t":"v"},{"x":48,"y":20,"t":"v"},{"x":50,"y":20,"t":"t"},{"x":52,"y":20,"t":"t"},{"x":54,"y":20,"t":"t"},{"x":56,"y":20,"t":"s"},{"x":58,"y":20,"t":"s"},{"x":60,"y":20,"t":"s"},{"x":62,"y":20,"t":"s"},{"x":64,"y":20,"t":"t"},{"x":66,"y":20,"t":"Z"},{"x":68,"y":20,"t":"Y"},{"x":70,"y":20,"t":"Y"},{"x":72,"y":20,"t":"q"},{"x":74,"y":20,"t":"n"},{"x":76,"y":20,"t":"q"},{"x":78,"y":20,"t":"o"},{"x":80,"y":20,"t":"q"},{"x":82,"y":20,"t":"k"},{"x":84,"y":20,"t":"k"},{"x":86,"y":20,"t":"k"},{"x":88,"y":20,"t":"k"},{"x":90,"y":20,"t":"k"},{"x":92,"y":20,"t":"k"},{"x":94,"y":20,"t":"m"},{"x":96,"y":20,"t":"m"},
{"x":1,"y":21,"t":"C"},{"x":3,"y":21,"t":"C"},{"x":5,"y":21,"t":"B"},{"x":7,"y":21,"t":"B"},{"x":9,"y":21,"t":"C"},{"x":11,"y":21,"t":"B"},{"x":13,"y":21,"t":"B"},{"x":15,"y":21,"t":"B"},{"x":17,"y":21,"t":"C"},{"x":19,"y":21,"t":"B"},{"x":21,"y":21,"t":"B"},{"x":23,"y":21,"t":"C"},{"x":25,"y":21,"t":"B"},{"x":27,"y":21,"t":"x"},{"x":29,"y":21,"t":"x"},{"x":31,"y":21,"t":"x"},{"x":33,"y":21,"t":"x"},{"x":35,"y":21,"t":"x"},{"x":37,"y":21,"t":"x"},{"x":39,"y":21,"t":"x"},{"x":41,"y":21,"t":"v"},{"x":43,"y":21,"t":"v"},{"x":45,"y":21,"t":"v"},{"x":47,"y":21,"t":"v"},{"x":49,"y":21,"t":"v"},{"x":51,"y":21,"t":"v"},{"x":53,"y":21,"t":"t"},{"x":55,"y":21,"t":"t"},{"x":57,"y":21,"t":"t"},{"x":59,"y":21,"t":"s"},{"x":61,"y":21,"t":"t"},{"x":63,"y":21,"t":"t"},{"x":65,"y":21,"t":"Z"},{"x":67,"y":21,"t":"Z"},{"x":69,"y":21,"t":"Y"},{"x":71,"y":21,"t":"q"},{"x":73,"y":21,"t":"n"},{"x":75,"y":21,"t":"q"},{"x":77,"y":21,"t":"o"},{"x":79,"y":21,"t":"q"},{"x":81,"y":21,"t":"q"},{"x":83,"y":21,"t":"k"},{"x":85,"y":21,"t":"k"},{"x":87,"y":21,"t":"k"},{"x":89,"y":21,"t":"k"},{"x":91,"y":21,"t":"k"},{"x":93,"y":21,"t":"m"},{"x":95,"y":21,"t":"m"},{"x":97,"y":21,"t":"V"},
{"x":0,"y":22,"t":"B"},{"x":2,"y":22,"t":"B"},{"x":4,"y":22,"t":"B"},{"x":6,"y":22,"t":"B"},{"x":8,"y":22,"t":"B"},{"x":10,"y":22,"t":"B"},{"x":12,"y":22,"t":"B"},{"x":14,"y":22,"t":"B"},{"x":16,"y":22,"t":"B"},{"x":18,"y":22,"t":"B"},{"x":20,"y":22,"t":"B"},{"x":22,"y":22,"t":"B"},{"x":24,"y":22,"t":"B"},{"x":26,"y":22,"t":"x"},{"x":28,"y":22,"t":"x"},{"x":30,"y":22,"t":"w"},{"x":32,"y":22,"t":"x"},{"x":34,"y":22,"t":"v"},{"x":36,"y":22,"t":"w"},{"x":38,"y":22,"t":"v"},{"x":40,"y":22,"t":"v"},{"x":42,"y":22,"t":"v"},{"x":44,"y":22,"t":"v"},{"x":46,"y":22,"t":"v"},{"x":48,"y":22,"t":"v"},{"x":50,"y":22,"t":"v"},{"x":52,"y":22,"t":"t"},{"x":54,"y":22,"t":"v"},{"x":56,"y":22,"t":"t"},{"x":58,"y":22,"t":"t"},{"x":60,"y":22,"t":"s"},{"x":62,"y":22,"t":"s"},{"x":64,"y":22,"t":"s"},{"x":66,"y":22,"t":"Z"},{"x":68,"y":22,"t":"Z"},{"x":70,"y":22,"t":"Z"},{"x":72,"y":22,"t":"q"},{"x":74,"y":22,"t":"n"},{"x":76,"y":22,"t":"o"},{"x":78,"y":22,"t":"q"},{"x":80,"y":22,"t":"p"},{"x":82,"y":22,"t":"q"},{"x":84,"y":22,"t":"k"},{"x":86,"y":22,"t":"k"},{"x":88,"y":22,"t":"k"},{"x":90,"y":22,"t":"k"},{"x":92,"y":22,"t":"k"},{"x":94,"y":22,"t":"j"},{"x":96,"y":22,"t":"m"},{"x":98,"y":22,"t":"m"},
{"x":1,"y":23,"t":"B"},{"x":3,"y":23,"t":"B"},{"x":5,"y":23,"t":"B"},{"x":7,"y":23,"t":"B"},{"x":9,"y":23,"t":"B"},{"x":11,"y":23,"t":"B"},{"x":13,"y":23,"t":"B"},{"x":15,"y":23,"t":"B"},{"x":17,"y":23,"t":"B"},{"x":19,"y":23,"t":"U"},{"x":21,"y":23,"t":"B"},{"x":23,"y":23,"t":"w"},{"x":25,"y":23,"t":"x"},{"x":27,"y":23,"t":"w"},{"x":29,"y":23,"t":"w"},{"x":31,"y":23,"t":"v"},{"x":33,"y":23,"t":"w"},{"x":35,"y":23,"t":"x"},{"x":37,"y":23,"t":"x"},{"x":39,"y":23,"t":"x"},{"x":41,"y":23,"t":"v"},{"x":43,"y":23,"t":"v"},{"x":45,"y":23,"t":"v"},{"x":47,"y":23,"t":"v"},{"x":49,"y":23,"t":"v"},{"x":51,"y":23,"t":"v"},{"x":53,"y":23,"t":"t"},{"x":55,"y":23,"t":"s"},{"x":57,"y":23,"t":"Z"},{"x":59,"y":23,"t":"s"},{"x":61,"y":23,"t":"s"},{"x":63,"y":23,"t":"t"},{"x":65,"y":23,"t":"s"},{"x":67,"y":23,"t":"Z"},{"x":69,"y":23,"t":"Y"},{"x":71,"y":23,"t":"Y"},{"x":73,"y":23,"t":"q"},{"x":75,"y":23,"t":"o"},{"x":77,"y":23,"t":"n"},{"x":79,"y":23,"t":"q"},{"x":81,"y":23,"t":"p"},{"x":83,"y":23,"t":"q"},{"x":85,"y":23,"t":"k"},{"x":87,"y":23,"t":"k"},{"x":89,"y":23,"t":"k"},{"x":91,"y":23,"t":"k"},{"x":93,"y":23,"t":"k"},{"x":95,"y":23,"t":"j"},{"x":97,"y":23,"t":"m"},{"x":99,"y":23,"t":"m"},
{"x":0,"y":24,"t":"B"},{"x":2,"y":24,"t":"B"},{"x":4,"y":24,"t":"B"},{"x":6,"y":24,"t":"B"},{"x":8,"y":24,"t":"B"},{"x":10,"y":24,"t":"B"},{"x":12,"y":24,"t":"B"},{"x":14,"y":24,"t":"B"},{"x":16,"y":24,"t":"B"},{"x":18,"y":24,"t":"U"},{"x":20,"y":24,"t":"U"},{"x":22,"y":24,"t":"w"},{"x":24,"y":24,"t":"w"},{"x":26,"y":24,"t":"w"},{"x":28,"y":24,"t":"v"},{"x":30,"y":24,"t":"w"},{"x":32,"y":24,"t":"w"},{"x":34,"y":24,"t":"w"},{"x":36,"y":24,"t":"w"},{"x":38,"y":24,"t":"x"},{"x":40,"y":24,"t":"x"},{"x":42,"y":24,"t":"x"},{"x":44,"y":24,"t":"x"},{"x":46,"y":24,"t":"x"},{"x":48,"y":24,"t":"x"},{"x":50,"y":24,"t":"v"},{"x":52,"y":24,"t":"v"},{"x":54,"y":24,"t":"v"},{"x":56,"y":24,"t":"v"},{"x":58,"y":24,"t":"Z"},{"x":60,"y":24,"t":"Q"},{"x":62,"y":24,"t":"R"},{"x":64,"y":24,"t":"Z"},{"x":66,"y":24,"t":"S"},{"x":68,"y":24,"t":"s"},{"x":70,"y":24,"t":"Z"},{"x":72,"y":24,"t":"Z"},{"x":74,"y":24,"t":"Y"},{"x":76,"y":24,"t":"q"},{"x":78,"y":24,"t":"o"},{"x":80,"y":24,"t":"n"},{"x":82,"y":24,"t":"q"},{"x":84,"y":24,"t":"p"},{"x":86,"y":24,"t":"j"},{"x":88,"y":24,"t":"k"},{"x":90,"y":24,"t":"k"},{"x":92,"y":24,"t":"k"},{"x":94,"y":24,"t":"k"},{"x":96,"y":24,"t":"j"},{"x":98,"y":24,"t":"m"},{"x":100,"y":24,"t":"m"},
{"x":1,"y":25,"t":"B"},{"x":3,"y":25,"t":"B"},{"x":5,"y":25,"t":"B"},{"x":7,"y":25,"t":"B"},{"x":9,"y":25,"t":"B"},{"x":11,"y":25,"t":"B"},{"x":13,"y":25,"t":"B"},{"x":15,"y":25,"t":"B"},{"x":17,"y":25,"t":"D"},{"x":19,"y":25,"t":"U"},{"x":21,"y":25,"t":"w"},{"x":23,"y":25,"t":"w"},{"x":25,"y":25,"t":"w"},{"x":27,"y":25,"t":"w"},{"x":29,"y":25,"t":"w"},{"x":31,"y":25,"t":"w"},{"x":33,"y":25,"t":"w"},{"x":35,"y":25,"t":"x"},{"x":37,"y":25,"t":"x"},{"x":39,"y":25,"t":"x"},{"x":41,"y":25,"t":"x"},{"x":43,"y":25,"t":"x"},{"x":45,"y":25,"t":"x"},{"x":47,"y":25,"t":"x"},{"x":49,"y":25,"t":"x"},{"x":51,"y":25,"t":"v"},{"x":53,"y":25,"t":"v"},{"x":55,"y":25,"t":"v"},{"x":57,"y":25,"t":"v"},{"x":59,"y":25,"t":"S"},{"x":61,"y":25,"t":"Q"},{"x":63,"y":25,"t":"Q"},{"x":65,"y":25,"t":"R"},{"x":67,"y":25,"t":"S"},{"x":69,"y":25,"t":"Z"},{"x":71,"y":25,"t":"S"},{"x":73,"y":25,"t":"Y"},{"x":75,"y":25,"t":"q"},{"x":77,"y":25,"t":"o"},{"x":79,"y":25,"t":"q"},{"x":81,"y":25,"t":"p"},{"x":83,"y":25,"t":"o"},{"x":85,"y":25,"t":"q"},{"x":87,"y":25,"t":"k"},{"x":89,"y":25,"t":"k"},{"x":91,"y":25,"t":"k"},{"x":93,"y":25,"t":"k"},{"x":95,"y":25,"t":"k"},{"x":97,"y":25,"t":"m"},{"x":99,"y":25,"t":"m"},{"x":101,"y":25,"t":"m"},
{"x":0,"y":26,"t":"D"},{"x":2,"y":26,"t":"D"},{"x":4,"y":26,"t":"D"},{"x":6,"y":26,"t":"D"},{"x":8,"y":26,"t":"D"},{"x":10,"y":26,"t":"D"},{"x":12,"y":26,"t":"D"},{"x":14,"y":26,"t":"D"},{"x":16,"y":26,"t":"D"},{"x":18,"y":26,"t":"U"},{"x":20,"y":26,"t":"w"},{"x":22,"y":26,"t":"w"},{"x":24,"y":26,"t":"w"},{"x":26,"y":26,"t":"w"},{"x":28,"y":26,"t":"w"},{"x":30,"y":26,"t":"w"},{"x":32,"y":26,"t":"w"},{"x":34,"y":26,"t":"w"},{"x":36,"y":26,"t":"A"},{"x":38,"y":26,"t":"z"},{"x":40,"y":26,"t":"z"},{"x":42,"y":26,"t":"z"},{"x":44,"y":26,"t":"x"},{"x":46,"y":26,"t":"x"},{"x":48,"y":26,"t":"x"},{"x":50,"y":26,"t":"x"},{"x":52,"y":26,"t":"v"},{"x":54,"y":26,"t":"v"},{"x":56,"y":26,"t":"v"},{"x":58,"y":26,"t":"v"},{"x":60,"y":26,"t":"v"},{"x":62,"y":26,"t":"S"},{"x":64,"y":26,"t":"S"},{"x":66,"y":26,"t":"R"},{"x":68,"y":26,"t":"Q"},{"x":70,"y":26,"t":"Q"},{"x":72,"y":26,"t":"R"},{"x":74,"y":26,"t":"S"},{"x":76,"y":26,"t":"q"},{"x":78,"y":26,"t":"o"},{"x":80,"y":26,"t":"q"},{"x":82,"y":26,"t":"p"},{"x":84,"y":26,"t":"q"},{"x":86,"y":26,"t":"k"},{"x":88,"y":26,"t":"k"},{"x":90,"y":26,"t":"k"},{"x":92,"y":26,"t":"k"},{"x":94,"y":26,"t":"k"},{"x":96,"y":26,"t":"k"},{"x":98,"y":26,"t":"m"},{"x":100,"y":26,"t":"m"},{"x":102,"y":26,"t":"V"},
{"x":1,"y":27,"t":"D"},{"x":3,"y":27,"t":"D"},{"x":5,"y":27,"t":"D"},{"x":7,"y":27,"t":"D"},{"x":9,"y":27,"t":"D"},{"x":11,"y":27,"t":"D"},{"x":13,"y":27,"t":"D"},{"x":15,"y":27,"t":"U"},{"x":17,"y":27,"t":"w"},{"x":19,"y":27,"t":"w"},{"x":21,"y":27,"t":"w"},{"x":23,"y":27,"t":"w"},{"x":25,"y":27,"t":"w"},{"x":27,"y":27,"t":"w"},{"x":29,"y":27,"t":"x"},{"x":31,"y":27,"t":"x"},{"x":33,"y":27,"t":"w"},{"x":35,"y":27,"t":"x"},{"x":37,"y":27,"t":"A"},{"x":39,"y":27,"t":"y"},{"x":41,"y":27,"t":"y"},{"x":43,"y":27,"t":"y"},{"x":45,"y":27,"t":"y"},{"x":47,"y":27,"t":"A"},{"x":49,"y":27,"t":"x"},{"x":51,"y":27,"t":"x"},{"x":53,"y":27,"t":"x"},{"x":55,"y":27,"t":"v"},{"x":57,"y":27,"t":"v"},{"x":59,"y":27,"t":"v"},{"x":61,"y":27,"t":"v"},{"x":63,"y":27,"t":"S"},{"x":65,"y":27,"t":"S"},{"x":67,"y":27,"t":"S"},{"x":69,"y":27,"t":"S"},{"x":71,"y":27,"t":"R"},{"x":73,"y":27,"t":"R"},{"x":75,"y":27,"t":"S"},{"x":77,"y":27,"t":"q"},{"x":79,"y":27,"t":"o"},{"x":81,"y":27,"t":"q"},{"x":83,"y":27,"t":"p"},{"x":85,"y":27,"t":"q"},{"x":87,"y":27,"t":"k"},{"x":89,"y":27,"t":"k"},{"x":91,"y":27,"t":"k"},{"x":93,"y":27,"t":"k"},{"x":95,"y":27,"t":"k"},{"x":97,"y":27,"t":"j"},{"x":99,"y":27,"t":"m"},{"x":101,"y":27,"t":"m"},
{"x":0,"y":28,"t":"H"},{"x":2,"y":28,"t":"G"},{"x":4,"y":28,"t":"D"},{"x":6,"y":28,"t":"D"},{"x":8,"y":28,"t":"D"},{"x":10,"y":28,"t":"D"},{"x":12,"y":28,"t":"D"},{"x":14,"y":28,"t":"F"},{"x":16,"y":28,"t":"F"},{"x":18,"y":28,"t":"w"},{"x":20,"y":28,"t":"w"},{"x":22,"y":28,"t":"w"},{"x":24,"y":28,"t":"w"},{"x":26,"y":28,"t":"w"},{"x":28,"y":28,"t":"w"},{"x":30,"y":28,"t":"x"},{"x":32,"y":28,"t":"x"},{"x":34,"y":28,"t":"x"},{"x":36,"y":28,"t":"y"},{"x":38,"y":28,"t":"y"},{"x":40,"y":28,"t":"y"},{"x":42,"y":28,"t":"y"},{"x":44,"y":28,"t":"y"},{"x":46,"y":28,"t":"y"},{"x":48,"y":28,"t":"y"},{"x":50,"y":28,"t":"x"},{"x":52,"y":28,"t":"x"},{"x":54,"y":28,"t":"x"},{"x":56,"y":28,"t":"x"},{"x":58,"y":28,"t":"A"},{"x":60,"y":28,"t":"v"},{"x":62,"y":28,"t":"v"},{"x":64,"y":28,"t":"S"},{"x":66,"y":28,"t":"S"},{"x":68,"y":28,"t":"S"},{"x":70,"y":28,"t":"S"},{"x":72,"y":28,"t":"S"},{"x":74,"y":28,"t":"Y"},{"x":76,"y":28,"t":"p"},{"x":78,"y":28,"t":"p"},{"x":80,"y":28,"t":"q"},{"x":82,"y":28,"t":"n"},{"x":84,"y":28,"t":"o"},{"x":86,"y":28,"t":"q"},{"x":88,"y":28,"t":"k"},{"x":90,"y":28,"t":"k"},{"x":92,"y":28,"t":"k"},{"x":94,"y":28,"t":"k"},{"x":96,"y":28,"t":"k"},{"x":98,"y":28,"t":"j"},{"x":100,"y":28,"t":"m"},{"x":102,"y":28,"t":"m"},
{"x":3,"y":29,"t":"J"},{"x":5,"y":29,"t":"I"},{"x":7,"y":29,"t":"J"},{"x":9,"y":29,"t":"J"},{"x":11,"y":29,"t":"I"},{"x":13,"y":29,"t":"w"},{"x":15,"y":29,"t":"w"},{"x":17,"y":29,"t":"w"},{"x":19,"y":29,"t":"w"},{"x":21,"y":29,"t":"w"},{"x":23,"y":29,"t":"w"},{"x":25,"y":29,"t":"w"},{"x":27,"y":29,"t":"x"},{"x":29,"y":29,"t":"x"},{"x":31,"y":29,"t":"y"},{"x":33,"y":29,"t":"y"},{"x":35,"y":29,"t":"y"},{"x":37,"y":29,"t":"z"},{"x":39,"y":29,"t":"y"},{"x":41,"y":29,"t":"y"},{"x":43,"y":29,"t":"y"},{"x":45,"y":29,"t":"y"},{"x":47,"y":29,"t":"y"},{"x":49,"y":29,"t":"y"},{"x":51,"y":29,"t":"y"},{"x":53,"y":29,"t":"x"},{"x":55,"y":29,"t":"x"},{"x":57,"y":29,"t":"x"},{"x":59,"y":29,"t":"x"},{"x":61,"y":29,"t":"v"},{"x":63,"y":29,"t":"v"},{"x":65,"y":29,"t":"S"},{"x":67,"y":29,"t":"S"},{"x":69,"y":29,"t":"Y"},{"x":71,"y":29,"t":"Y"},{"x":73,"y":29,"t":"Y"},{"x":75,"y":29,"t":"Y"},{"x":77,"y":29,"t":"Y"},{"x":79,"y":29,"t":"Y"},{"x":81,"y":29,"t":"q"},{"x":83,"y":29,"t":"q"},{"x":85,"y":29,"t":"o"},{"x":87,"y":29,"t":"o"},{"x":89,"y":29,"t":"q"},{"x":91,"y":29,"t":"k"},{"x":93,"y":29,"t":"k"},{"x":95,"y":29,"t":"k"},{"x":97,"y":29,"t":"k"},{"x":99,"y":29,"t":"j"},{"x":101,"y":29,"t":"m"},{"x":103,"y":29,"t":"q"},
{"x":4,"y":30,"t":"H"},{"x":6,"y":30,"t":"I"},{"x":8,"y":30,"t":"I"},{"x":10,"y":30,"t":"I"},{"x":12,"y":30,"t":"G"},{"x":14,"y":30,"t":"w"},{"x":16,"y":30,"t":"w"},{"x":18,"y":30,"t":"w"},{"x":20,"y":30,"t":"w"},{"x":22,"y":30,"t":"w"},{"x":24,"y":30,"t":"U"},{"x":26,"y":30,"t":"U"},{"x":28,"y":30,"t":"A"},{"x":30,"y":30,"t":"A"},{"x":32,"y":30,"t":"y"},{"x":34,"y":30,"t":"y"},{"x":36,"y":30,"t":"y"},{"x":38,"y":30,"t":"y"},{"x":40,"y":30,"t":"y"},{"x":42,"y":30,"t":"y"},{"x":44,"y":30,"t":"y"},{"x":46,"y":30,"t":"y"},{"x":48,"y":30,"t":"y"},{"x":50,"y":30,"t":"y"},{"x":52,"y":30,"t":"y"},{"x":54,"y":30,"t":"z"},{"x":56,"y":30,"t":"z"},{"x":58,"y":30,"t":"z"},{"x":60,"y":30,"t":"z"},{"x":62,"y":30,"t":"v"},{"x":64,"y":30,"t":"S"},{"x":66,"y":30,"t":"Y"},{"x":68,"y":30,"t":"Y"},{"x":70,"y":30,"t":"M"},{"x":72,"y":30,"t":"M"},{"x":74,"y":30,"t":"M"},{"x":76,"y":30,"t":"M"},{"x":78,"y":30,"t":"q"},{"x":80,"y":30,"t":"Y"},{"x":82,"y":30,"t":"Y"},{"x":84,"y":30,"t":"o"},{"x":86,"y":30,"t":"o"},{"x":88,"y":30,"t":"o"},{"x":90,"y":30,"t":"q"},{"x":92,"y":30,"t":"k"},{"x":94,"y":30,"t":"k"},{"x":96,"y":30,"t":"k"},{"x":98,"y":30,"t":"j"},{"x":100,"y":30,"t":"m"},{"x":102,"y":30,"t":"m"},{"x":104,"y":30,"t":"V"},
{"x":1,"y":31,"t":"H"},{"x":3,"y":31,"t":"H"},{"x":5,"y":31,"t":"H"},{"x":7,"y":31,"t":"I"},{"x":9,"y":31,"t":"J"},{"x":11,"y":31,"t":"J"},{"x":13,"y":31,"t":"U"},{"x":15,"y":31,"t":"U"},{"x":17,"y":31,"t":"w"},{"x":19,"y":31,"t":"x"},{"x":21,"y":31,"t":"w"},{"x":23,"y":31,"t":"x"},{"x":25,"y":31,"t":"x"},{"x":27,"y":31,"t":"x"},{"x":29,"y":31,"t":"x"},{"x":31,"y":31,"t":"A"},{"x":33,"y":31,"t":"y"},{"x":35,"y":31,"t":"y"},{"x":37,"y":31,"t":"y"},{"x":39,"y":31,"t":"y"},{"x":41,"y":31,"t":"y"},{"x":43,"y":31,"t":"y"},{"x":45,"y":31,"t":"y"},{"x":47,"y":31,"t":"y"},{"x":49,"y":31,"t":"y"},{"x":51,"y":31,"t":"y"},{"x":53,"y":31,"t":"y"},{"x":55,"y":31,"t":"y"},{"x":57,"y":31,"t":"z"},{"x":59,"y":31,"t":"y"},{"x":61,"y":31,"t":"z"},{"x":63,"y":31,"t":"x"},{"x":65,"y":31,"t":"U"},{"x":67,"y":31,"t":"S"},{"x":69,"y":31,"t":"N"},{"x":71,"y":31,"t":"M"},{"x":73,"y":31,"t":"K"},{"x":75,"y":31,"t":"K"},{"x":77,"y":31,"t":"N"},{"x":79,"y":31,"t":"Y"},{"x":81,"y":31,"t":"Y"},{"x":83,"y":31,"t":"q"},{"x":85,"y":31,"t":"q"},{"x":87,"y":31,"t":"q"},{"x":89,"y":31,"t":"q"},{"x":91,"y":31,"t":"k"},{"x":93,"y":31,"t":"k"},{"x":95,"y":31,"t":"k"},{"x":97,"y":31,"t":"j"},{"x":99,"y":31,"t":"j"},{"x":101,"y":31,"t":"m"},{"x":103,"y":31,"t":"m"},
{"x":0,"y":32,"t":"H"},{"x":4,"y":32,"t":"G"},{"x":6,"y":32,"t":"J"},{"x":8,"y":32,"t":"x"},{"x":10,"y":32,"t":"J"},{"x":12,"y":32,"t":"U"},{"x":14,"y":32,"t":"w"},{"x":16,"y":32,"t":"w"},{"x":18,"y":32,"t":"x"},{"x":20,"y":32,"t":"U"},{"x":22,"y":32,"t":"U"},{"x":24,"y":32,"t":"x"},{"x":26,"y":32,"t":"A"},{"x":28,"y":32,"t":"A"},{"x":30,"y":32,"t":"A"},{"x":32,"y":32,"t":"y"},{"x":34,"y":32,"t":"y"},{"x":36,"y":32,"t":"y"},{"x":38,"y":32,"t":"y"},{"x":40,"y":32,"t":"y"},{"x":42,"y":32,"t":"y"},{"x":44,"y":32,"t":"y"},{"x":46,"y":32,"t":"y"},{"x":48,"y":32,"t":"y"},{"x":50,"y":32,"t":"y"},{"x":52,"y":32,"t":"y"},{"x":54,"y":32,"t":"y"},{"x":56,"y":32,"t":"y"},{"x":58,"y":32,"t":"y"},{"x":60,"y":32,"t":"y"},{"x":62,"y":32,"t":"A"},{"x":64,"y":32,"t":"I"},{"x":66,"y":32,"t":"S"},{"x":68,"y":32,"t":"M"},{"x":70,"y":32,"t":"K"},{"x":72,"y":32,"t":"M"},{"x":74,"y":32,"t":"O"},{"x":76,"y":32,"t":"O"},{"x":78,"y":32,"t":"M"},{"x":80,"y":32,"t":"Y"},{"x":82,"y":32,"t":"p"},{"x":84,"y":32,"t":"o"},{"x":86,"y":32,"t":"n"},{"x":88,"y":32,"t":"o"},{"x":90,"y":32,"t":"q"},{"x":92,"y":32,"t":"k"},{"x":94,"y":32,"t":"k"},{"x":96,"y":32,"t":"k"},{"x":98,"y":32,"t":"k"},{"x":100,"y":32,"t":"j"},{"x":102,"y":32,"t":"m"},{"x":104,"y":32,"t":"Z"},
{"x":1,"y":33,"t":"F"},{"x":3,"y":33,"t":"J"},{"x":5,"y":33,"t":"J"},{"x":7,"y":33,"t":"F"},{"x":9,"y":33,"t":"F"},{"x":11,"y":33,"t":"J"},{"x":13,"y":33,"t":"U"},{"x":15,"y":33,"t":"w"},{"x":17,"y":33,"t":"x"},{"x":19,"y":33,"t":"x"},{"x":21,"y":33,"t":"x"},{"x":23,"y":33,"t":"U"},{"x":25,"y":33,"t":"A"},{"x":27,"y":33,"t":"y"},{"x":29,"y":33,"t":"y"},{"x":31,"y":33,"t":"y"},{"x":33,"y":33,"t":"y"},{"x":35,"y":33,"t":"y"},{"x":37,"y":33,"t":"y"},{"x":39,"y":33,"t":"y"},{"x":41,"y":33,"t":"y"},{"x":43,"y":33,"t":"y"},{"x":45,"y":33,"t":"y"},{"x":47,"y":33,"t":"y"},{"x":49,"y":33,"t":"y"},{"x":51,"y":33,"t":"y"},{"x":53,"y":33,"t":"y"},{"x":55,"y":33,"t":"y"},{"x":57,"y":33,"t":"y"},{"x":59,"y":33,"t":"y"},{"x":61,"y":33,"t":"A"},{"x":63,"y":33,"t":"G"},{"x":65,"y":33,"t":"I"},{"x":67,"y":33,"t":"N"},{"x":69,"y":33,"t":"K"},{"x":71,"y":33,"t":"N"},{"x":73,"y":33,"t":"M"},{"x":75,"y":33,"t":"M"},{"x":77,"y":33,"t":"O"},{"x":79,"y":33,"t":"M"},{"x":81,"y":33,"t":"M"},{"x":83,"y":33,"t":"Y"},{"x":85,"y":33,"t":"q"},{"x":87,"y":33,"t":"q"},{"x":89,"y":33,"t":"q"},{"x":91,"y":33,"t":"k"},{"x":93,"y":33,"t":"k"},{"x":95,"y":33,"t":"k"},{"x":97,"y":33,"t":"k"},{"x":99,"y":33,"t":"k"},{"x":101,"y":33,"t":"m"},{"x":103,"y":33,"t":"m"},{"x":105,"y":33,"t":"Z"},
{"x":0,"y":34,"t":"F"},{"x":2,"y":34,"t":"F"},{"x":4,"y":34,"t":"F"},{"x":6,"y":34,"t":"x"},{"x":8,"y":34,"t":"F"},{"x":10,"y":34,"t":"F"},{"x":12,"y":34,"t":"U"},{"x":14,"y":34,"t":"U"},{"x":16,"y":34,"t":"U"},{"x":18,"y":34,"t":"U"},{"x":20,"y":34,"t":"U"},{"x":22,"y":34,"t":"x"},{"x":24,"y":34,"t":"U"},{"x":26,"y":34,"t":"A"},{"x":28,"y":34,"t":"A"},{"x":30,"y":34,"t":"y"},{"x":32,"y":34,"t":"y"},{"x":34,"y":34,"t":"y"},{"x":36,"y":34,"t":"y"},{"x":38,"y":34,"t":"y"},{"x":40,"y":34,"t":"y"},{"x":42,"y":34,"t":"y"},{"x":44,"y":34,"t":"y"},{"x":46,"y":34,"t":"y"},{"x":48,"y":34,"t":"y"},{"x":50,"y":34,"t":"y"},{"x":52,"y":34,"t":"y"},{"x":54,"y":34,"t":"y"},{"x":56,"y":34,"t":"y"},{"x":58,"y":34,"t":"y"},{"x":60,"y":34,"t":"y"},{"x":62,"y":34,"t":"A"},{"x":64,"y":34,"t":"I"},{"x":66,"y":34,"t":"G"},{"x":68,"y":34,"t":"K"},{"x":70,"y":34,"t":"K"},{"x":72,"y":34,"t":"M"},{"x":74,"y":34,"t":"N"},{"x":76,"y":34,"t":"N"},{"x":78,"y":34,"t":"O"},{"x":80,"y":34,"t":"M"},{"x":82,"y":34,"t":"M"},{"x":84,"y":34,"t":"Y"},{"x":86,"y":34,"t":"q"},{"x":88,"y":34,"t":"n"},{"x":90,"y":34,"t":"k"},{"x":92,"y":34,"t":"k"},{"x":94,"y":34,"t":"k"},{"x":96,"y":34,"t":"k"},{"x":98,"y":34,"t":"k"},{"x":100,"y":34,"t":"j"},{"x":102,"y":34,"t":"m"},{"x":104,"y":34,"t":"j"},
{"x":1,"y":35,"t":"F"},{"x":3,"y":35,"t":"F"},{"x":5,"y":35,"t":"F"},{"x":7,"y":35,"t":"F"},{"x":9,"y":35,"t":"F"},{"x":11,"y":35,"t":"F"},{"x":13,"y":35,"t":"G"},{"x":15,"y":35,"t":"G"},{"x":17,"y":35,"t":"G"},{"x":19,"y":35,"t":"G"},{"x":21,"y":35,"t":"U"},{"x":23,"y":35,"t":"x"},{"x":25,"y":35,"t":"A"},{"x":27,"y":35,"t":"A"},{"x":29,"y":35,"t":"z"},{"x":31,"y":35,"t":"y"},{"x":33,"y":35,"t":"y"},{"x":35,"y":35,"t":"y"},{"x":37,"y":35,"t":"y"},{"x":39,"y":35,"t":"y"},{"x":41,"y":35,"t":"y"},{"x":43,"y":35,"t":"y"},{"x":45,"y":35,"t":"y"},{"x":47,"y":35,"t":"y"},{"x":49,"y":35,"t":"y"},{"x":51,"y":35,"t":"y"},{"x":53,"y":35,"t":"y"},{"x":55,"y":35,"t":"y"},{"x":57,"y":35,"t":"y"},{"x":59,"y":35,"t":"y"},{"x":61,"y":35,"t":"y"},{"x":63,"y":35,"t":"z"},{"x":65,"y":35,"t":"I"},{"x":67,"y":35,"t":"K"},{"x":69,"y":35,"t":"K"},{"x":71,"y":35,"t":"M"},{"x":73,"y":35,"t":"M"},{"x":75,"y":35,"t":"N"},{"x":77,"y":35,"t":"M"},{"x":79,"y":35,"t":"O"},{"x":81,"y":35,"t":"q"},{"x":83,"y":35,"t":"Y"},{"x":85,"y":35,"t":"q"},{"x":87,"y":35,"t":"q"},{"x":89,"y":35,"t":"n"},{"x":91,"y":35,"t":"k"},{"x":93,"y":35,"t":"k"},{"x":95,"y":35,"t":"k"},{"x":97,"y":35,"t":"k"},{"x":99,"y":35,"t":"k"},{"x":101,"y":35,"t":"j"},{"x":103,"y":35,"t":"m"},{"x":105,"y":35,"t":"m"},
{"x":0,"y":36,"t":"F"},{"x":2,"y":36,"t":"F"},{"x":4,"y":36,"t":"F"},{"x":6,"y":36,"t":"F"},{"x":8,"y":36,"t":"F"},{"x":10,"y":36,"t":"F"},{"x":12,"y":36,"t":"G"},{"x":14,"y":36,"t":"G"},{"x":16,"y":36,"t":"G"},{"x":18,"y":36,"t":"G"},{"x":20,"y":36,"t":"U"},{"x":22,"y":36,"t":"U"},{"x":24,"y":36,"t":"A"},{"x":26,"y":36,"t":"A"},{"x":28,"y":36,"t":"z"},{"x":30,"y":36,"t":"y"},{"x":32,"y":36,"t":"z"},{"x":34,"y":36,"t":"y"},{"x":36,"y":36,"t":"y"},{"x":38,"y":36,"t":"y"},{"x":40,"y":36,"t":"y"},{"x":42,"y":36,"t":"y"},{"x":44,"y":36,"t":"y"},{"x":46,"y":36,"t":"y"},{"x":48,"y":36,"t":"y"},{"x":50,"y":36,"t":"y"},{"x":52,"y":36,"t":"y"},{"x":54,"y":36,"t":"y"},{"x":56,"y":36,"t":"y"},{"x":58,"y":36,"t":"y"},{"x":60,"y":36,"t":"y"},{"x":62,"y":36,"t":"z"},{"x":64,"y":36,"t":"G"},{"x":66,"y":36,"t":"K"},{"x":68,"y":36,"t":"K"},{"x":70,"y":36,"t":"M"},{"x":72,"y":36,"t":"N"},{"x":74,"y":36,"t":"M"},{"x":76,"y":36,"t":"M"},{"x":78,"y":36,"t":"M"},{"x":80,"y":36,"t":"O"},{"x":82,"y":36,"t":"M"},{"x":84,"y":36,"t":"Y"},{"x":86,"y":36,"t":"q"},{"x":88,"y":36,"t":"n"},{"x":90,"y":36,"t":"q"},{"x":92,"y":36,"t":"k"},{"x":94,"y":36,"t":"k"},{"x":96,"y":36,"t":"k"},{"x":98,"y":36,"t":"k"},{"x":100,"y":36,"t":"j"},{"x":102,"y":36,"t":"m"},{"x":104,"y":36,"t":"m"},{"x":106,"y":36,"t":"V"},
{"x":1,"y":37,"t":"F"},{"x":3,"y":37,"t":"F"},{"x":5,"y":37,"t":"F"},{"x":7,"y":37,"t":"E"},{"x":9,"y":37,"t":"E"},{"x":11,"y":37,"t":"F"},{"x":13,"y":37,"t":"G"},{"x":15,"y":37,"t":"G"},{"x":17,"y":37,"t":"G"},{"x":19,"y":37,"t":"F"},{"x":21,"y":37,"t":"F"},{"x":23,"y":37,"t":"A"},{"x":25,"y":37,"t":"A"},{"x":27,"y":37,"t":"A"},{"x":29,"y":37,"t":"z"},{"x":31,"y":37,"t":"z"},{"x":33,"y":37,"t":"y"},{"x":35,"y":37,"t":"z"},{"x":37,"y":37,"t":"y"},{"x":39,"y":37,"t":"y"},{"x":41,"y":37,"t":"y"},{"x":43,"y":37,"t":"y"},{"x":45,"y":37,"t":"y"},{"x":47,"y":37,"t":"y"},{"x":49,"y":37,"t":"y"},{"x":51,"y":37,"t":"y"},{"x":53,"y":37,"t":"y"},{"x":55,"y":37,"t":"y"},{"x":57,"y":37,"t":"y"},{"x":59,"y":37,"t":"y"},{"x":61,"y":37,"t":"z"},{"x":63,"y":37,"t":"I"},{"x":65,"y":37,"t":"K"},{"x":67,"y":37,"t":"K"},{"x":69,"y":37,"t":"K"},{"x":71,"y":37,"t":"q"},{"x":73,"y":37,"t":"M"},{"x":75,"y":37,"t":"N"},{"x":77,"y":37,"t":"N"},{"x":79,"y":37,"t":"M"},{"x":81,"y":37,"t":"K"},{"x":83,"y":37,"t":"q"},{"x":85,"y":37,"t":"Y"},{"x":87,"y":37,"t":"q"},{"x":89,"y":37,"t":"n"},{"x":91,"y":37,"t":"k"},{"x":93,"y":37,"t":"k"},{"x":95,"y":37,"t":"j"},{"x":97,"y":37,"t":"k"},{"x":99,"y":37,"t":"k"},{"x":101,"y":37,"t":"j"},{"x":103,"y":37,"t":"m"},{"x":105,"y":37,"t":"m"},
{"x":0,"y":38,"t":"F"},{"x":2,"y":38,"t":"F"},{"x":4,"y":38,"t":"F"},{"x":6,"y":38,"t":"G"},{"x":8,"y":38,"t":"F"},{"x":10,"y":38,"t":"F"},{"x":12,"y":38,"t":"F"},{"x":14,"y":38,"t":"F"},{"x":16,"y":38,"t":"F"},{"x":18,"y":38,"t":"F"},{"x":20,"y":38,"t":"U"},{"x":22,"y":38,"t":"A"},{"x":24,"y":38,"t":"A"},{"x":26,"y":38,"t":"A"},{"x":28,"y":38,"t":"z"},{"x":30,"y":38,"t":"z"},{"x":32,"y":38,"t":"y"},{"x":34,"y":38,"t":"z"},{"x":36,"y":38,"t":"z"},{"x":38,"y":38,"t":"y"},{"x":40,"y":38,"t":"y"},{"x":42,"y":38,"t":"y"},{"x":44,"y":38,"t":"y"},{"x":46,"y":38,"t":"y"},{"x":48,"y":38,"t":"y"},{"x":50,"y":38,"t":"y"},{"x":52,"y":38,"t":"y"},{"x":54,"y":38,"t":"y"},{"x":56,"y":38,"t":"z"},{"x":58,"y":38,"t":"A"},{"x":60,"y":38,"t":"I"},{"x":62,"y":38,"t":"I"},{"x":64,"y":38,"t":"M"},{"x":66,"y":38,"t":"K"},{"x":68,"y":38,"t":"K"},{"x":70,"y":38,"t":"K"},{"x":72,"y":38,"t":"K"},{"x":74,"y":38,"t":"N"},{"x":76,"y":38,"t":"M"},{"x":78,"y":38,"t":"M"},{"x":80,"y":38,"t":"M"},{"x":82,"y":38,"t":"K"},{"x":84,"y":38,"t":"M"},{"x":86,"y":38,"t":"q"},{"x":88,"y":38,"t":"q"},{"x":90,"y":38,"t":"n"},{"x":92,"y":38,"t":"k"},{"x":94,"y":38,"t":"j"},{"x":96,"y":38,"t":"k"},{"x":98,"y":38,"t":"k"},{"x":100,"y":38,"t":"j"},{"x":102,"y":38,"t":"m"},{"x":104,"y":38,"t":"m"},{"x":106,"y":38,"t":"V"},
{"x":1,"y":39,"t":"E"},{"x":3,"y":39,"t":"F"},{"x":5,"y":39,"t":"G"},{"x":7,"y":39,"t":"E"},{"x":9,"y":39,"t":"F"},{"x":11,"y":39,"t":"F"},{"x":13,"y":39,"t":"G"},{"x":15,"y":39,"t":"E"},{"x":17,"y":39,"t":"F"},{"x":19,"y":39,"t":"U"},{"x":21,"y":39,"t":"A"},{"x":23,"y":39,"t":"A"},{"x":25,"y":39,"t":"A"},{"x":27,"y":39,"t":"z"},{"x":29,"y":39,"t":"z"},{"x":31,"y":39,"t":"y"},{"x":33,"y":39,"t":"z"},{"x":35,"y":39,"t":"y"},{"x":37,"y":39,"t":"z"},{"x":39,"y":39,"t":"y"},{"x":41,"y":39,"t":"y"},{"x":43,"y":39,"t":"y"},{"x":45,"y":39,"t":"y"},{"x":47,"y":39,"t":"z"},{"x":49,"y":39,"t":"y"},{"x":51,"y":39,"t":"z"},{"x":53,"y":39,"t":"y"},{"x":55,"y":39,"t":"A"},{"x":57,"y":39,"t":"G"},{"x":59,"y":39,"t":"H"},{"x":61,"y":39,"t":"G"},{"x":63,"y":39,"t":"I"},{"x":65,"y":39,"t":"K"},{"x":67,"y":39,"t":"K"},{"x":69,"y":39,"t":"K"},{"x":71,"y":39,"t":"M"},{"x":73,"y":39,"t":"K"},{"x":75,"y":39,"t":"M"},{"x":77,"y":39,"t":"M"},{"x":79,"y":39,"t":"M"},{"x":81,"y":39,"t":"K"},{"x":83,"y":39,"t":"K"},{"x":85,"y":39,"t":"Y"},{"x":87,"y":39,"t":"q"},{"x":89,"y":39,"t":"n"},{"x":91,"y":39,"t":"q"},{"x":93,"y":39,"t":"k"},{"x":95,"y":39,"t":"k"},{"x":97,"y":39,"t":"k"},{"x":99,"y":39,"t":"j"},{"x":101,"y":39,"t":"m"},{"x":103,"y":39,"t":"m"},{"x":105,"y":39,"t":"m"},
{"x":0,"y":40,"t":"F"},{"x":2,"y":40,"t":"G"},{"x":4,"y":40,"t":"F"},{"x":6,"y":40,"t":"G"},{"x":8,"y":40,"t":"F"},{"x":10,"y":40,"t":"F"},{"x":12,"y":40,"t":"E"},{"x":14,"y":40,"t":"F"},{"x":16,"y":40,"t":"F"},{"x":18,"y":40,"t":"G"},{"x":20,"y":40,"t":"U"},{"x":22,"y":40,"t":"U"},{"x":24,"y":40,"t":"A"},{"x":26,"y":40,"t":"z"},{"x":28,"y":40,"t":"z"},{"x":30,"y":40,"t":"y"},{"x":32,"y":40,"t":"z"},{"x":34,"y":40,"t":"y"},{"x":36,"y":40,"t":"y"},{"x":38,"y":40,"t":"z"},{"x":40,"y":40,"t":"z"},{"x":42,"y":40,"t":"y"},{"x":44,"y":40,"t":"z"},{"x":46,"y":40,"t":"z"},{"x":48,"y":40,"t":"z"},{"x":50,"y":40,"t":"z"},{"x":52,"y":40,"t":"x"},{"x":54,"y":40,"t":"A"},{"x":56,"y":40,"t":"A"},{"x":58,"y":40,"t":"G"},{"x":60,"y":40,"t":"G"},{"x":62,"y":40,"t":"I"},{"x":64,"y":40,"t":"K"},{"x":66,"y":40,"t":"K"},{"x":68,"y":40,"t":"M"},{"x":70,"y":40,"t":"N"},{"x":72,"y":40,"t":"O"},{"x":74,"y":40,"t":"K"},{"x":76,"y":40,"t":"M"},{"x":78,"y":40,"t":"M"},{"x":80,"y":40,"t":"M"},{"x":82,"y":40,"t":"O"},{"x":84,"y":40,"t":"M"},{"x":86,"y":40,"t":"Y"},{"x":88,"y":40,"t":"q"},{"x":90,"y":40,"t":"n"},{"x":92,"y":40,"t":"q"},{"x":94,"y":40,"t":"k"},{"x":96,"y":40,"t":"k"},{"x":98,"y":40,"t":"j"},{"x":100,"y":40,"t":"k"},{"x":102,"y":40,"t":"m"},{"x":104,"y":40,"t":"m"},{"x":106,"y":40,"t":"V"},
{"x":1,"y":41,"t":"F"},{"x":3,"y":41,"t":"G"},{"x":5,"y":41,"t":"E"},{"x":7,"y":41,"t":"E"},{"x":9,"y":41,"t":"E"},{"x":11,"y":41,"t":"E"},{"x":13,"y":41,"t":"E"},{"x":15,"y":41,"t":"E"},{"x":17,"y":41,"t":"F"},{"x":19,"y":41,"t":"U"},{"x":21,"y":41,"t":"U"},{"x":23,"y":41,"t":"A"},{"x":25,"y":41,"t":"z"},{"x":27,"y":41,"t":"y"},{"x":29,"y":41,"t":"z"},{"x":31,"y":41,"t":"y"},{"x":33,"y":41,"t":"z"},{"x":35,"y":41,"t":"z"},{"x":37,"y":41,"t":"z"},{"x":39,"y":41,"t":"y"},{"x":41,"y":41,"t":"A"},{"x":43,"y":41,"t":"z"},{"x":45,"y":41,"t":"z"},{"x":47,"y":41,"t":"x"},{"x":49,"y":41,"t":"z"},{"x":51,"y":41,"t":"A"},{"x":53,"y":41,"t":"A"},{"x":55,"y":41,"t":"A"},{"x":57,"y":41,"t":"J"},{"x":59,"y":41,"t":"H"},{"x":61,"y":41,"t":"I"},{"x":63,"y":41,"t":"K"},{"x":65,"y":41,"t":"K"},{"x":67,"y":41,"t":"M"},{"x":69,"y":41,"t":"L"},{"x":71,"y":41,"t":"K"},{"x":73,"y":41,"t":"K"},{"x":75,"y":41,"t":"M"},{"x":77,"y":41,"t":"M"},{"x":79,"y":41,"t":"M"},{"x":81,"y":41,"t":"M"},{"x":83,"y":41,"t":"K"},{"x":85,"y":41,"t":"q"},{"x":87,"y":41,"t":"q"},{"x":89,"y":41,"t":"n"},{"x":91,"y":41,"t":"q"},{"x":93,"y":41,"t":"q"},{"x":95,"y":41,"t":"k"},{"x":97,"y":41,"t":"j"},{"x":99,"y":41,"t":"k"},{"x":101,"y":41,"t":"m"},{"x":103,"y":41,"t":"m"},{"x":105,"y":41,"t":"j"},
{"x":4,"y":42,"t":"E"},{"x":6,"y":42,"t":"E"},{"x":8,"y":42,"t":"E"},{"x":10,"y":42,"t":"E"},{"x":12,"y":42,"t":"E"},{"x":14,"y":42,"t":"E"},{"x":16,"y":42,"t":"F"},{"x":18,"y":42,"t":"E"},{"x":20,"y":42,"t":"E"},{"x":22,"y":42,"t":"A"},{"x":24,"y":42,"t":"A"},{"x":26,"y":42,"t":"z"},{"x":28,"y":42,"t":"z"},{"x":30,"y":42,"t":"y"},{"x":32,"y":42,"t":"z"},{"x":34,"y":42,"t":"y"},{"x":36,"y":42,"t":"z"},{"x":38,"y":42,"t":"y"},{"x":40,"y":42,"t":"y"},{"x":42,"y":42,"t":"z"},{"x":44,"y":42,"t":"y"},{"x":46,"y":42,"t":"z"},{"x":48,"y":42,"t":"z"},{"x":50,"y":42,"t":"z"},{"x":52,"y":42,"t":"A"},{"x":54,"y":42,"t":"U"},{"x":56,"y":42,"t":"U"},{"x":58,"y":42,"t":"G"},{"x":60,"y":42,"t":"I"},{"x":62,"y":42,"t":"K"},{"x":64,"y":42,"t":"L"},{"x":66,"y":42,"t":"L"},{"x":68,"y":42,"t":"K"},{"x":70,"y":42,"t":"K"},{"x":72,"y":42,"t":"K"},{"x":74,"y":42,"t":"M"},{"x":76,"y":42,"t":"M"},{"x":78,"y":42,"t":"M"},{"x":80,"y":42,"t":"M"},{"x":82,"y":42,"t":"K"},{"x":84,"y":42,"t":"K"},{"x":86,"y":42,"t":"Y"},{"x":88,"y":42,"t":"q"},{"x":90,"y":42,"t":"n"},{"x":92,"y":42,"t":"q"},{"x":94,"y":42,"t":"k"},{"x":96,"y":42,"t":"j"},{"x":98,"y":42,"t":"k"},{"x":100,"y":42,"t":"k"},{"x":102,"y":42,"t":"m"},{"x":104,"y":42,"t":"m"},{"x":106,"y":42,"t":"V"},
{"x":9,"y":43,"t":"F"},{"x":11,"y":43,"t":"E"},{"x":13,"y":43,"t":"E"},{"x":15,"y":43,"t":"F"},{"x":17,"y":43,"t":"F"},{"x":19,"y":43,"t":"U"},{"x":21,"y":43,"t":"x"},{"x":23,"y":43,"t":"A"},{"x":25,"y":43,"t":"A"},{"x":27,"y":43,"t":"A"},{"x":29,"y":43,"t":"A"},{"x":31,"y":43,"t":"z"},{"x":33,"y":43,"t":"y"},{"x":35,"y":43,"t":"A"},{"x":37,"y":43,"t":"z"},{"x":39,"y":43,"t":"y"},{"x":41,"y":43,"t":"z"},{"x":43,"y":43,"t":"y"},{"x":45,"y":43,"t":"z"},{"x":47,"y":43,"t":"z"},{"x":49,"y":43,"t":"z"},{"x":51,"y":43,"t":"A"},{"x":53,"y":43,"t":"U"},{"x":55,"y":43,"t":"U"},{"x":57,"y":43,"t":"U"},{"x":59,"y":43,"t":"G"},{"x":61,"y":43,"t":"I"},{"x":63,"y":43,"t":"K"},{"x":65,"y":43,"t":"L"},{"x":67,"y":43,"t":"K"},{"x":69,"y":43,"t":"N"},{"x":71,"y":43,"t":"M"},{"x":73,"y":43,"t":"M"},{"x":75,"y":43,"t":"M"},{"x":77,"y":43,"t":"M"},{"x":79,"y":43,"t":"M"},{"x":81,"y":43,"t":"K"},{"x":83,"y":43,"t":"K"},{"x":85,"y":43,"t":"M"},{"x":87,"y":43,"t":"q"},{"x":89,"y":43,"t":"n"},{"x":91,"y":43,"t":"q"},{"x":93,"y":43,"t":"k"},{"x":95,"y":43,"t":"k"},{"x":97,"y":43,"t":"k"},{"x":99,"y":43,"t":"j"},{"x":101,"y":43,"t":"k"},{"x":103,"y":43,"t":"m"},{"x":105,"y":43,"t":"j"},
{"x":20,"y":44,"t":"U"},{"x":22,"y":44,"t":"A"},{"x":24,"y":44,"t":"A"},{"x":26,"y":44,"t":"z"},{"x":28,"y":44,"t":"z"},{"x":30,"y":44,"t":"z"},{"x":32,"y":44,"t":"y"},{"x":34,"y":44,"t":"z"},{"x":36,"y":44,"t":"z"},{"x":38,"y":44,"t":"y"},{"x":40,"y":44,"t":"y"},{"x":42,"y":44,"t":"y"},{"x":44,"y":44,"t":"y"},{"x":46,"y":44,"t":"A"},{"x":48,"y":44,"t":"z"},{"x":50,"y":44,"t":"A"},{"x":52,"y":44,"t":"U"},{"x":54,"y":44,"t":"U"},{"x":56,"y":44,"t":"U"},{"x":58,"y":44,"t":"T"},{"x":60,"y":44,"t":"H"},{"x":62,"y":44,"t":"I"},{"x":64,"y":44,"t":"K"},{"x":66,"y":44,"t":"K"},{"x":68,"y":44,"t":"N"},{"x":70,"y":44,"t":"M"},{"x":72,"y":44,"t":"M"},{"x":74,"y":44,"t":"M"},{"x":76,"y":44,"t":"M"},{"x":78,"y":44,"t":"M"},{"x":80,"y":44,"t":"K"},{"x":82,"y":44,"t":"O"},{"x":84,"y":44,"t":"M"},{"x":86,"y":44,"t":"q"},{"x":88,"y":44,"t":"q"},{"x":90,"y":44,"t":"n"},{"x":92,"y":44,"t":"q"},{"x":94,"y":44,"t":"j"},{"x":96,"y":44,"t":"k"},{"x":98,"y":44,"t":"k"},{"x":100,"y":44,"t":"j"},{"x":102,"y":44,"t":"m"},{"x":104,"y":44,"t":"m"},
{"x":23,"y":45,"t":"A"},{"x":27,"y":45,"t":"A"},{"x":29,"y":45,"t":"A"},{"x":31,"y":45,"t":"z"},{"x":33,"y":45,"t":"z"},{"x":35,"y":45,"t":"y"},{"x":37,"y":45,"t":"y"},{"x":39,"y":45,"t":"y"},{"x":41,"y":45,"t":"y"},{"x":43,"y":45,"t":"y"},{"x":45,"y":45,"t":"y"},{"x":47,"y":45,"t":"z"},{"x":49,"y":45,"t":"z"},{"x":51,"y":45,"t":"U"},{"x":53,"y":45,"t":"U"},{"x":55,"y":45,"t":"T"},{"x":57,"y":45,"t":"T"},{"x":59,"y":45,"t":"T"},{"x":61,"y":45,"t":"G"},{"x":63,"y":45,"t":"K"},{"x":65,"y":45,"t":"K"},{"x":67,"y":45,"t":"N"},{"x":69,"y":45,"t":"M"},{"x":71,"y":45,"t":"M"},{"x":73,"y":45,"t":"x"},{"x":75,"y":45,"t":"M"},{"x":77,"y":45,"t":"M"},{"x":79,"y":45,"t":"K"},{"x":81,"y":45,"t":"K"},{"x":83,"y":45,"t":"M"},{"x":85,"y":45,"t":"Y"},{"x":87,"y":45,"t":"q"},{"x":89,"y":45,"t":"n"},{"x":91,"y":45,"t":"q"},{"x":93,"y":45,"t":"q"},{"x":95,"y":45,"t":"k"},{"x":97,"y":45,"t":"j"},{"x":99,"y":45,"t":"k"},{"x":101,"y":45,"t":"m"},{"x":103,"y":45,"t":"m"},{"x":105,"y":45,"t":"V"},
{"x":54,"y":46,"t":"T"},{"x":56,"y":46,"t":"T"},{"x":58,"y":46,"t":"T"},{"x":60,"y":46,"t":"T"},{"x":62,"y":46,"t":"H"},{"x":64,"y":46,"t":"M"},{"x":66,"y":46,"t":"M"},{"x":68,"y":46,"t":"M"},{"x":70,"y":46,"t":"M"},{"x":72,"y":46,"t":"M"},{"x":74,"y":46,"t":"M"},{"x":76,"y":46,"t":"K"},{"x":78,"y":46,"t":"K"},{"x":80,"y":46,"t":"K"},{"x":82,"y":46,"t":"M"},{"x":84,"y":46,"t":"Y"},{"x":86,"y":46,"t":"q"},{"x":88,"y":46,"t":"n"},{"x":90,"y":46,"t":"q"},{"x":92,"y":46,"t":"q"},{"x":94,"y":46,"t":"k"},{"x":96,"y":46,"t":"j"},{"x":98,"y":46,"t":"k"},{"x":100,"y":46,"t":"m"},{"x":102,"y":46,"t":"m"},{"x":104,"y":46,"t":"V"},
{"x":59,"y":47,"t":"T"},{"x":63,"y":47,"t":"G"},{"x":65,"y":47,"t":"M"},{"x":67,"y":47,"t":"M"},{"x":69,"y":47,"t":"K"},{"x":71,"y":47,"t":"O"},{"x":73,"y":47,"t":"K"},{"x":75,"y":47,"t":"K"},{"x":77,"y":47,"t":"K"},{"x":79,"y":47,"t":"M"},{"x":81,"y":47,"t":"P"},{"x":83,"y":47,"t":"P"},{"x":85,"y":47,"t":"Y"},{"x":87,"y":47,"t":"q"},{"x":89,"y":47,"t":"n"},{"x":91,"y":47,"t":"q"},{"x":93,"y":47,"t":"q"},{"x":95,"y":47,"t":"q"},{"x":97,"y":47,"t":"j"},{"x":99,"y":47,"t":"k"},{"x":101,"y":47,"t":"m"},{"x":103,"y":47,"t":"j"},
{"x":64,"y":48,"t":"O"},{"x":66,"y":48,"t":"O"},{"x":68,"y":48,"t":"O"},{"x":70,"y":48,"t":"O"},{"x":72,"y":48,"t":"O"},{"x":74,"y":48,"t":"O"},{"x":76,"y":48,"t":"M"},{"x":78,"y":48,"t":"P"},{"x":80,"y":48,"t":"P"},{"x":82,"y":48,"t":"P"},{"x":84,"y":48,"t":"P"},{"x":86,"y":48,"t":"q"},{"x":88,"y":48,"t":"n"},{"x":90,"y":48,"t":"q"},{"x":92,"y":48,"t":"q"},{"x":94,"y":48,"t":"q"},{"x":96,"y":48,"t":"j"},{"x":98,"y":48,"t":"k"},{"x":100,"y":48,"t":"m"},{"x":102,"y":48,"t":"j"},
{"x":67,"y":49,"t":"O"},{"x":69,"y":49,"t":"O"},{"x":71,"y":49,"t":"P"},{"x":73,"y":49,"t":"P"},{"x":75,"y":49,"t":"P"},{"x":77,"y":49,"t":"P"},{"x":79,"y":49,"t":"P"},{"x":81,"y":49,"t":"Y"},{"x":83,"y":49,"t":"Y"},{"x":85,"y":49,"t":"q"},{"x":87,"y":49,"t":"q"},{"x":89,"y":49,"t":"n"},{"x":91,"y":49,"t":"q"},{"x":93,"y":49,"t":"q"},{"x":95,"y":49,"t":"j"},{"x":97,"y":49,"t":"q"},{"x":99,"y":49,"t":"k"},{"x":101,"y":49,"t":"m"},{"x":103,"y":49,"t":"m"},
{"x":72,"y":50,"t":"P"},{"x":74,"y":50,"t":"P"},{"x":76,"y":50,"t":"Y"},{"x":78,"y":50,"t":"Y"},{"x":80,"y":50,"t":"q"},{"x":82,"y":50,"t":"Y"},{"x":84,"y":50,"t":"q"},{"x":86,"y":50,"t":"q"},{"x":88,"y":50,"t":"q"},{"x":90,"y":50,"t":"q"},{"x":92,"y":50,"t":"q"},{"x":94,"y":50,"t":"q"},{"x":96,"y":50,"t":"j"},{"x":98,"y":50,"t":"k"},{"x":100,"y":50,"t":"m"},{"x":102,"y":50,"t":"j"},
{"x":75,"y":51,"t":"X"},{"x":77,"y":51,"t":"W"},{"x":79,"y":51,"t":"X"},{"x":81,"y":51,"t":"X"},{"x":83,"y":51,"t":"q"},{"x":85,"y":51,"t":"Y"},{"x":87,"y":51,"t":"q"},{"x":89,"y":51,"t":"X"},{"x":91,"y":51,"t":"q"},{"x":93,"y":51,"t":"X"},{"x":95,"y":51,"t":"X"},{"x":97,"y":51,"t":"k"},{"x":99,"y":51,"t":"m"},{"x":101,"y":51,"t":"j"},
{"x":74,"y":52,"t":"X"},{"x":76,"y":52,"t":"X"},{"x":78,"y":52,"t":"W"},{"x":80,"y":52,"t":"X"},{"x":82,"y":52,"t":"X"},{"x":84,"y":52,"t":"X"},{"x":86,"y":52,"t":"W"},{"x":88,"y":52,"t":"X"},{"x":90,"y":52,"t":"X"},{"x":92,"y":52,"t":"X"},{"x":94,"y":52,"t":"W"},{"x":96,"y":52,"t":"j"},{"x":98,"y":52,"t":"m"},{"x":100,"y":52,"t":"k"},
{"x":75,"y":53,"t":"X"},{"x":77,"y":53,"t":"W"},{"x":79,"y":53,"t":"X"},{"x":81,"y":53,"t":"X"},{"x":83,"y":53,"t":"W"},{"x":85,"y":53,"t":"X"},{"x":87,"y":53,"t":"W"},{"x":89,"y":53,"t":"X"},{"x":91,"y":53,"t":"W"},{"x":93,"y":53,"t":"j"},{"x":95,"y":53,"t":"k"},{"x":97,"y":53,"t":"k"},{"x":99,"y":53,"t":"m"},
{"x":78,"y":54,"t":"X"},{"x":80,"y":54,"t":"X"},{"x":82,"y":54,"t":"W"},{"x":84,"y":54,"t":"X"},{"x":86,"y":54,"t":"W"},{"x":88,"y":54,"t":"X"},{"x":90,"y":54,"t":"W"},{"x":92,"y":54,"t":"X"},{"x":94,"y":54,"t":"k"},{"x":96,"y":54,"t":"m"},{"x":98,"y":54,"t":"m"},
{"x":81,"y":55,"t":"W"},{"x":83,"y":55,"t":"W"},{"x":85,"y":55,"t":"X"},{"x":87,"y":55,"t":"X"},{"x":89,"y":55,"t":"W"},{"x":91,"y":55,"t":"X"},{"x":93,"y":55,"t":"k"},{"x":95,"y":55,"t":"k"},{"x":97,"y":55,"t":"j"},
{"x":84,"y":56,"t":"m"},{"x":86,"y":56,"t":"k"},{"x":88,"y":56,"t":"W"},{"x":90,"y":56,"t":"k"},{"x":92,"y":56,"t":"m"},{"x":94,"y":56,"t":"m"},{"x":96,"y":56,"t":"m"},
{"x":87,"y":57,"t":"X"},{"x":89,"y":57,"t":"X"},{"x":91,"y":57,"t":"m"}],
"inset":[{"x":518,"y":1791,"k":"c","v0":0,"v1":0.07},{"x":518,"y":1791,"k":"e","v0":0.07,"v1":0.23},{"x":518,"y":1791,"k":"i","v0":0.23,"v1":0.935},{"x":518,"y":1791,"k":"j","v0":0.935,"v1":1},{"x":941,"y":1791,"k":"e","v0":0,"v1":0.17},{"x":941,"y":1791,"k":"i","v0":0.17,"v1":0.935},{"x":941,"y":1791,"k":"j","v0":0.935,"v1":1}],
"funnel":[{"y":1280,"a":303,"b":388},{"y":1310,"a":291,"b":404},{"y":1340,"a":280,"b":425},{"y":1380,"a":268,"b":456},{"y":1420,"a":260,"b":525},{"y":1440,"a":258,"b":565},{"y":1470,"a":259,"b":650},{"y":1507,"a":267,"b":790},{"y":1535,"a":275,"b":910},{"y":1574,"a":286,"b":1145}],
"legend":[{"x":1393,"y":1793,"k":"r"},{"x":1469,"y":1793,"k":"b"},{"x":1545,"y":1793,"k":"c"},{"x":1621,"y":1793,"k":"d"},{"x":1697,"y":1793,"k":"e"},{"x":1773,"y":1793,"k":"i"},{"x":1392,"y":1868,"k":"f"},{"x":1468,"y":1868,"k":"g"},{"x":1544,"y":1868,"k":"h"},{"x":1620,"y":1868,"k":"k"},{"x":1696,"y":1868,"k":"l"},{"x":1772,"y":1868,"k":"j"}],
"boldlabels":[{"x":69,"y":117,"s":"A"},{"x":1763,"y":117,"s":"B"}],
"labels":[{"x":782,"y":117,"s":"scatterpie","z":88},{"x":1586,"y":1725,"s":"cell-types","z":53},{"x":1773,"y":1808,"s":"i","z":38},{"x":1772,"y":1882,"s":"j","z":38}],
"boxes":[{"x":286,"y":1574,"x2":1175,"y2":2009,"c":"inset"},{"x":335.7,"y":1212.7,"x2":387.3,"y2":1236.7,"c":"zoom"}]},
"layer":[
{"data":{"name":"funnel"},"mark":{"type":"area","orient":"horizontal","interpolate":"monotone","fill":{"gradient":"linear","x1":0,"y1":0,"x2":0,"y2":1,"stops":[{"offset":0,"color":"#ffffff"},{"offset":1,"color":"#e9eaeb"}]}},"encoding":{"y":{"field":"y","type":"quantitative","scale":{"domain":[0,2040],"range":[0,2040]},"axis":null},"x":{"field":"a","type":"quantitative","scale":{"domain":[0,1816],"range":[0,1816]},"axis":null},"x2":{"field":"b"}}},
{"data":{"name":"spots"},"transform":[{"lookup":"t","from":{"data":{"name":"mix"},"key":"t","fields":["k","v0","v1"]}},{"flatten":["k","v0","v1"]}],"mark":{"type":"arc","outerRadius":11.3,"innerRadius":0},"encoding":{"x":{"field":"x","type":"quantitative","scale":{"domain":[0,100],"range":[201.7,1526.7]},"axis":null},"y":{"field":"y","type":"quantitative","scale":{"domain":[0,50],"range":[235.3,1385.3]},"axis":null},"theta":{"field":"v0","type":"quantitative","stack":null,"scale":{"domain":[0,1],"range":[0,6.28319]}},"theta2":{"field":"v1"},"color":{"field":"k","type":"nominal","legend":null,"scale":{"domain":["r","b","c","d","e","i","f","g","h","k","l","j"],"range":["#d53e4f","#f46d43","#fdae61","#f6ee6a","#add7a0","#52bb8a","#36c4f5","#3051a1","#6064ac","#6a3a94","#b92890","#f05ca2"]}}}},
{"data":{"name":"inset"},"mark":{"type":"arc","outerRadius":194,"innerRadius":0},"encoding":{"x":{"field":"x","type":"quantitative","scale":{"domain":[0,1816],"range":[0,1816]},"axis":null},"y":{"field":"y","type":"quantitative","scale":{"domain":[0,2040],"range":[0,2040]},"axis":null},"theta":{"field":"v0","type":"quantitative","stack":null,"scale":{"domain":[0,1],"range":[0,6.28319]}},"theta2":{"field":"v1"},"color":{"field":"k","type":"nominal","legend":null}}},
{"data":{"name":"boxes"},"mark":{"type":"rect","fillOpacity":0},"encoding":{"x":{"field":"x","type":"quantitative","scale":{"domain":[0,1816],"range":[0,1816]},"axis":null},"x2":{"field":"x2"},"y":{"field":"y","type":"quantitative","scale":{"domain":[0,2040],"range":[0,2040]},"axis":null},"y2":{"field":"y2"},"stroke":{"field":"c","type":"nominal","legend":null,"scale":{"domain":["inset","zoom"],"range":["#333333","#a0a0a0"]}},"strokeWidth":{"field":"c","type":"nominal","legend":null,"scale":{"domain":["inset","zoom"],"range":[2,1.5]}}}},
{"data":{"name":"legend"},"mark":{"type":"point","shape":"circle","filled":true,"size":4225,"opacity":1},"encoding":{"x":{"field":"x","type":"quantitative","scale":{"domain":[0,1816],"range":[0,1816]},"axis":null},"y":{"field":"y","type":"quantitative","scale":{"domain":[0,2040],"range":[0,2040]},"axis":null},"color":{"field":"k","type":"nominal","legend":null}}},
{"data":{"name":"boldlabels"},"mark":{"type":"text","font":"Liberation Sans","fontWeight":"bold","fontSize":76,"baseline":"alphabetic","align":"left","color":"black"},"encoding":{"x":{"field":"x","type":"quantitative","scale":{"domain":[0,1816],"range":[0,1816]},"axis":null},"y":{"field":"y","type":"quantitative","scale":{"domain":[0,2040],"range":[0,2040]},"axis":null},"text":{"field":"s"}}},
{"data":{"name":"labels"},"mark":{"type":"text","font":"Liberation Sans","baseline":"alphabetic","align":"center","color":"black"},"encoding":{"x":{"field":"x","type":"quantitative","scale":{"domain":[0,1816],"range":[0,1816]},"axis":null},"y":{"field":"y","type":"quantitative","scale":{"domain":[0,2040],"range":[0,2040]},"axis":null},"text":{"field":"s"},"size":{"field":"z","type":"quantitative","scale":null}}}
],
"resolve":{"scale":{"x":"independent","y":"independent","theta":"independent","size":"independent"}}}
